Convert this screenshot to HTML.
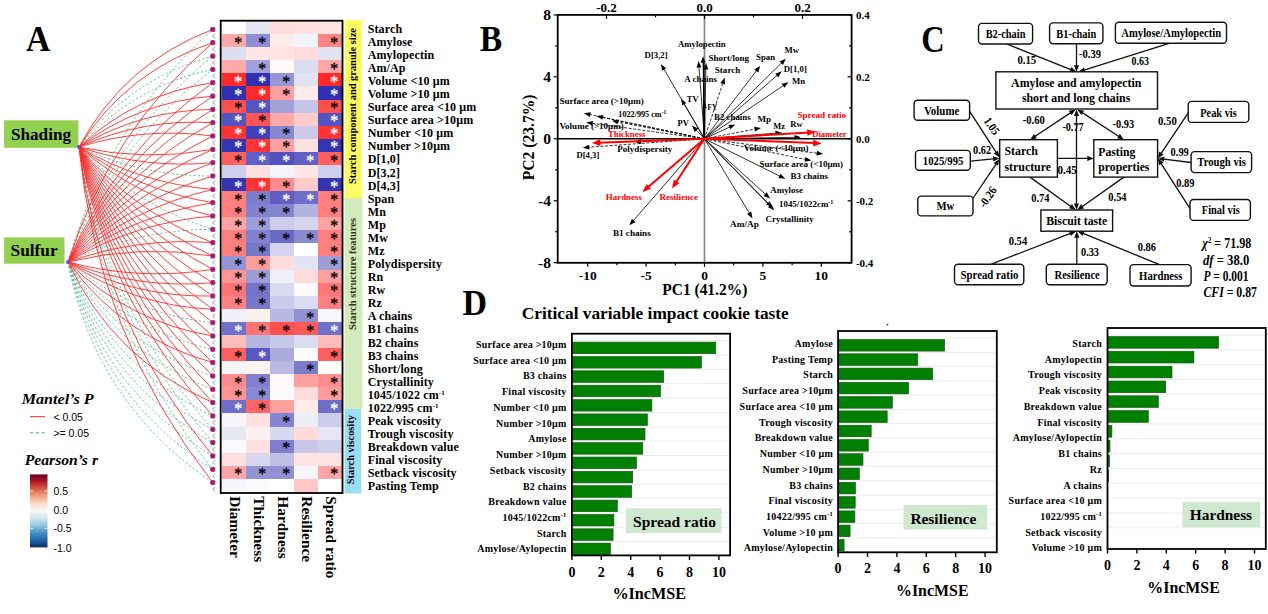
<!DOCTYPE html>
<html><head><meta charset="utf-8"><title>Figure</title>
<style>html,body{margin:0;padding:0;background:#fff;overflow:hidden;}svg{display:block;}</style></head>
<body><svg width="1268" height="614" viewBox="0 0 1268 614" font-family="'Liberation Serif','Times New Roman',serif">
<rect width="1268" height="614" fill="#fff"/>
<text x="26.0" y="51.4" font-size="35" fill="#000" font-weight="bold" textLength="24.4" lengthAdjust="spacingAndGlyphs">A</text>
<rect x="4.1" y="120.3" width="74.3" height="27.5" fill="#92D050"/>
<text x="11.0" y="140.2" font-size="17" fill="#000" font-weight="bold" textLength="60.0" lengthAdjust="spacingAndGlyphs">Shading</text>
<rect x="4.1" y="237.4" width="60.4" height="26.3" fill="#92D050"/>
<text x="10.5" y="256.3" font-size="17" fill="#000" font-weight="bold" textLength="47.2" lengthAdjust="spacingAndGlyphs">Sulfur</text>
<g fill="none" stroke="#3CB08A" stroke-width="0.9" stroke-dasharray="2.2,2.2" opacity="0.9">
<path d="M79,147 Q130.2,78.4 212.8,56.1"/>
<path d="M79,147 Q133.1,86.1 212.8,69.4"/>
<path d="M79,147 Q142.7,176.3 212.8,176.0"/>
<path d="M79,147 Q135.5,205.1 212.8,229.3"/>
<path d="M79,147 Q104.9,307.6 212.8,429.3"/>
<path d="M79,147 Q102.9,314.3 212.8,442.6"/>
<path d="M79,147 Q98.8,327.7 212.8,469.3"/>
<path d="M68,262 Q107.3,125.1 212.8,29.4"/>
<path d="M68,262 Q111.4,138.6 212.8,56.1"/>
<path d="M68,262 Q113.4,145.4 212.8,69.4"/>
<path d="M68,262 Q136.8,229.6 212.8,229.3"/>
<path d="M68,262 Q131.3,314.1 212.8,322.7"/>
<path d="M68,262 Q125.8,329.9 212.8,349.3"/>
<path d="M68,262 Q119.8,345.1 212.8,376.0"/>
<path d="M68,262 Q116.7,352.6 212.8,389.3"/>
<path d="M68,262 Q110.4,367.2 212.8,416.0"/>
<path d="M68,262 Q107.2,374.4 212.8,429.3"/>
<path d="M68,262 Q104.0,381.5 212.8,442.6"/>
<path d="M68,262 Q100.8,388.5 212.8,456.0"/>
<path d="M68,262 Q97.6,395.6 212.8,469.3"/>
<path d="M68,262 Q94.4,402.5 212.8,482.6"/>
</g>
<g fill="none" stroke="#FF2020" stroke-width="0.9" opacity="0.95">
<path d="M79,147 Q124.0,63.3 212.8,29.4"/>
<path d="M79,147 Q127.1,70.8 212.8,42.7"/>
<path d="M79,147 Q135.9,93.9 212.8,82.7"/>
<path d="M79,147 Q138.4,102.0 212.8,96.1"/>
<path d="M79,147 Q140.8,110.1 212.8,109.4"/>
<path d="M79,147 Q142.9,118.4 212.8,122.7"/>
<path d="M79,147 Q144.7,126.7 212.8,136.0"/>
<path d="M79,147 Q145.7,161.7 212.8,149.4"/>
<path d="M79,147 Q144.2,169.0 212.8,162.7"/>
<path d="M79,147 Q141.0,183.6 212.8,189.4"/>
<path d="M79,147 Q139.3,190.8 212.8,202.7"/>
<path d="M79,147 Q137.4,198.0 212.8,216.0"/>
<path d="M79,147 Q133.5,212.1 212.8,242.7"/>
<path d="M79,147 Q131.6,219.1 212.8,256.0"/>
<path d="M79,147 Q129.5,226.1 212.8,269.3"/>
<path d="M79,147 Q127.5,233.0 212.8,282.7"/>
<path d="M79,147 Q125.5,239.9 212.8,296.0"/>
<path d="M79,147 Q123.4,246.7 212.8,309.3"/>
<path d="M79,147 Q121.3,253.5 212.8,322.7"/>
<path d="M79,147 Q119.3,260.3 212.8,336.0"/>
<path d="M79,147 Q117.2,267.1 212.8,349.3"/>
<path d="M79,147 Q115.2,273.9 212.8,362.6"/>
<path d="M79,147 Q113.1,280.6 212.8,376.0"/>
<path d="M79,147 Q111.1,287.4 212.8,389.3"/>
<path d="M79,147 Q109.0,294.1 212.8,402.6"/>
<path d="M79,147 Q107.0,300.9 212.8,416.0"/>
<path d="M79,147 Q100.8,321.0 212.8,456.0"/>
<path d="M79,147 Q96.8,334.4 212.8,482.6"/>
<path d="M68,262 Q109.3,131.8 212.8,42.7"/>
<path d="M68,262 Q115.5,152.2 212.8,82.7"/>
<path d="M68,262 Q117.6,159.1 212.8,96.1"/>
<path d="M68,262 Q119.6,166.0 212.8,109.4"/>
<path d="M68,262 Q121.6,172.9 212.8,122.7"/>
<path d="M68,262 Q123.7,179.8 212.8,136.0"/>
<path d="M68,262 Q125.7,186.8 212.8,149.4"/>
<path d="M68,262 Q127.7,193.8 212.8,162.7"/>
<path d="M68,262 Q129.6,200.8 212.8,176.0"/>
<path d="M68,262 Q131.5,208.0 212.8,189.4"/>
<path d="M68,262 Q133.3,215.1 212.8,202.7"/>
<path d="M68,262 Q135.1,222.3 212.8,216.0"/>
<path d="M68,262 Q138.3,236.9 212.8,242.7"/>
<path d="M68,262 Q139.8,244.2 212.8,256.0"/>
<path d="M68,262 Q139.6,281.1 212.8,269.3"/>
<path d="M68,262 Q138.0,289.5 212.8,282.7"/>
<path d="M68,262 Q136.0,297.8 212.8,296.0"/>
<path d="M68,262 Q133.8,306.0 212.8,309.3"/>
<path d="M68,262 Q128.6,322.0 212.8,336.0"/>
<path d="M68,262 Q122.9,337.5 212.8,362.6"/>
<path d="M68,262 Q113.6,359.9 212.8,402.6"/>
</g>
<g fill="none" stroke="#8C8C8C" stroke-width="0.8">
<path d="M215.2,33.8 L212.6,36.0 L215.2,38.2"/>
<path d="M215.2,47.1 L212.6,49.3 L215.2,51.5"/>
<path d="M215.2,60.5 L212.6,62.7 L215.2,64.9"/>
<path d="M215.2,73.8 L212.6,76.0 L215.2,78.2"/>
<path d="M215.2,87.1 L212.6,89.3 L215.2,91.5"/>
<path d="M215.2,100.5 L212.6,102.7 L215.2,104.9"/>
<path d="M215.2,113.8 L212.6,116.0 L215.2,118.2"/>
<path d="M215.2,127.1 L212.6,129.3 L215.2,131.5"/>
<path d="M215.2,140.4 L212.6,142.6 L215.2,144.8"/>
<path d="M215.2,153.8 L212.6,156.0 L215.2,158.2"/>
<path d="M215.2,167.1 L212.6,169.3 L215.2,171.5"/>
<path d="M215.2,180.4 L212.6,182.6 L215.2,184.8"/>
<path d="M215.2,193.8 L212.6,196.0 L215.2,198.2"/>
<path d="M215.2,207.1 L212.6,209.3 L215.2,211.5"/>
<path d="M215.2,220.4 L212.6,222.6 L215.2,224.8"/>
<path d="M215.2,233.8 L212.6,235.9 L215.2,238.1"/>
<path d="M215.2,247.1 L212.6,249.3 L215.2,251.5"/>
<path d="M215.2,260.4 L212.6,262.6 L215.2,264.8"/>
<path d="M215.2,273.7 L212.6,275.9 L215.2,278.1"/>
<path d="M215.2,287.1 L212.6,289.3 L215.2,291.5"/>
<path d="M215.2,300.4 L212.6,302.6 L215.2,304.8"/>
<path d="M215.2,313.7 L212.6,315.9 L215.2,318.1"/>
<path d="M215.2,327.1 L212.6,329.3 L215.2,331.5"/>
<path d="M215.2,340.4 L212.6,342.6 L215.2,344.8"/>
<path d="M215.2,353.7 L212.6,355.9 L215.2,358.1"/>
<path d="M215.2,367.1 L212.6,369.2 L215.2,371.4"/>
<path d="M215.2,380.4 L212.6,382.6 L215.2,384.8"/>
<path d="M215.2,393.7 L212.6,395.9 L215.2,398.1"/>
<path d="M215.2,407.0 L212.6,409.2 L215.2,411.4"/>
<path d="M215.2,420.4 L212.6,422.6 L215.2,424.8"/>
<path d="M215.2,433.7 L212.6,435.9 L215.2,438.1"/>
<path d="M215.2,447.0 L212.6,449.2 L215.2,451.4"/>
<path d="M215.2,460.4 L212.6,462.6 L215.2,464.8"/>
<path d="M215.2,473.7 L212.6,475.9 L215.2,478.1"/>
<path d="M215.2,487.0 L212.6,489.2 L215.2,491.4"/>
</g>
<g fill="#E8001C" stroke="#6A4BE0" stroke-width="1">
<rect x="210.7" y="27.3" width="4.2" height="4.2" rx="1"/>
<rect x="210.7" y="40.6" width="4.2" height="4.2" rx="1"/>
<rect x="210.7" y="54.0" width="4.2" height="4.2" rx="1"/>
<rect x="210.7" y="67.3" width="4.2" height="4.2" rx="1"/>
<rect x="210.7" y="80.6" width="4.2" height="4.2" rx="1"/>
<rect x="210.7" y="94.0" width="4.2" height="4.2" rx="1"/>
<rect x="210.7" y="107.3" width="4.2" height="4.2" rx="1"/>
<rect x="210.7" y="120.6" width="4.2" height="4.2" rx="1"/>
<rect x="210.7" y="133.9" width="4.2" height="4.2" rx="1"/>
<rect x="210.7" y="147.3" width="4.2" height="4.2" rx="1"/>
<rect x="210.7" y="160.6" width="4.2" height="4.2" rx="1"/>
<rect x="210.7" y="173.9" width="4.2" height="4.2" rx="1"/>
<rect x="210.7" y="187.3" width="4.2" height="4.2" rx="1"/>
<rect x="210.7" y="200.6" width="4.2" height="4.2" rx="1"/>
<rect x="210.7" y="213.9" width="4.2" height="4.2" rx="1"/>
<rect x="210.7" y="227.2" width="4.2" height="4.2" rx="1"/>
<rect x="210.7" y="240.6" width="4.2" height="4.2" rx="1"/>
<rect x="210.7" y="253.9" width="4.2" height="4.2" rx="1"/>
<rect x="210.7" y="267.2" width="4.2" height="4.2" rx="1"/>
<rect x="210.7" y="280.6" width="4.2" height="4.2" rx="1"/>
<rect x="210.7" y="293.9" width="4.2" height="4.2" rx="1"/>
<rect x="210.7" y="307.2" width="4.2" height="4.2" rx="1"/>
<rect x="210.7" y="320.6" width="4.2" height="4.2" rx="1"/>
<rect x="210.7" y="333.9" width="4.2" height="4.2" rx="1"/>
<rect x="210.7" y="347.2" width="4.2" height="4.2" rx="1"/>
<rect x="210.7" y="360.5" width="4.2" height="4.2" rx="1"/>
<rect x="210.7" y="373.9" width="4.2" height="4.2" rx="1"/>
<rect x="210.7" y="387.2" width="4.2" height="4.2" rx="1"/>
<rect x="210.7" y="400.5" width="4.2" height="4.2" rx="1"/>
<rect x="210.7" y="413.9" width="4.2" height="4.2" rx="1"/>
<rect x="210.7" y="427.2" width="4.2" height="4.2" rx="1"/>
<rect x="210.7" y="440.5" width="4.2" height="4.2" rx="1"/>
<rect x="210.7" y="453.9" width="4.2" height="4.2" rx="1"/>
<rect x="210.7" y="467.2" width="4.2" height="4.2" rx="1"/>
<rect x="210.7" y="480.5" width="4.2" height="4.2" rx="1"/>
</g>
<g fill="#7B3FE4"><circle cx="79" cy="147" r="2"/><circle cx="68" cy="262" r="2"/></g>
<text x="21.7" y="403.5" font-size="15" fill="#000" font-weight="bold" font-style="italic" textLength="71.9" lengthAdjust="spacingAndGlyphs">Mantel’s P</text>
<line x1="30.0" y1="416.7" x2="45.0" y2="416.7" stroke="#FF2020" stroke-width="1"/>
<text x="53.4" y="420.8" font-size="10.5" fill="#000" font-family="'Liberation Sans',Arial,sans-serif">&lt; 0.05</text>
<line x1="30.0" y1="432.8" x2="45.0" y2="432.8" stroke="#3CB08A" stroke-width="1" stroke-dasharray="3.2,2.6"/>
<text x="53.4" y="436.8" font-size="10.5" fill="#000" font-family="'Liberation Sans',Arial,sans-serif">&gt;= 0.05</text>
<text x="24.7" y="465.0" font-size="15" fill="#000" font-weight="bold" font-style="italic" textLength="73.3" lengthAdjust="spacingAndGlyphs">Pearson’s r</text>
<defs><linearGradient id="rdbu" x1="0" y1="0" x2="0" y2="1"><stop offset="0" stop-color="#67001F"/><stop offset="0.1" stop-color="#B2182B"/><stop offset="0.2" stop-color="#D6604D"/><stop offset="0.3" stop-color="#F4A582"/><stop offset="0.4" stop-color="#FDDBC7"/><stop offset="0.5" stop-color="#F7F7F7"/><stop offset="0.6" stop-color="#D1E5F0"/><stop offset="0.7" stop-color="#92C5DE"/><stop offset="0.8" stop-color="#4393C3"/><stop offset="0.9" stop-color="#2166AC"/><stop offset="1" stop-color="#053061"/></linearGradient></defs>
<rect x="30.0" y="474.4" width="17.5" height="73.0" fill="url(#rdbu)"/>
<line x1="30.0" y1="490.9" x2="33.0" y2="490.9" stroke="#fff" stroke-width="0.8"/>
<line x1="44.5" y1="490.9" x2="47.5" y2="490.9" stroke="#fff" stroke-width="0.8"/>
<line x1="30.0" y1="510.0" x2="33.0" y2="510.0" stroke="#fff" stroke-width="0.8"/>
<line x1="44.5" y1="510.0" x2="47.5" y2="510.0" stroke="#fff" stroke-width="0.8"/>
<line x1="30.0" y1="528.4" x2="33.0" y2="528.4" stroke="#fff" stroke-width="0.8"/>
<line x1="44.5" y1="528.4" x2="47.5" y2="528.4" stroke="#fff" stroke-width="0.8"/>
<text x="53.4" y="494.6" font-size="10.5" fill="#000" font-family="'Liberation Sans',Arial,sans-serif">0.5</text>
<text x="53.4" y="513.8" font-size="10.5" fill="#000" font-family="'Liberation Sans',Arial,sans-serif">0.0</text>
<text x="53.4" y="532.2" font-size="10.5" fill="#000" font-family="'Liberation Sans',Arial,sans-serif">-0.5</text>
<text x="53.4" y="551.5" font-size="10.5" fill="#000" font-family="'Liberation Sans',Arial,sans-serif">-1.0</text>
<g shape-rendering="crispEdges">
<rect x="221.7" y="21.0" width="24.3" height="13.4" fill="#FFFFFF"/>
<rect x="245.7" y="21.0" width="24.3" height="13.4" fill="#E4E4F4"/>
<rect x="269.7" y="21.0" width="24.3" height="13.4" fill="#FFDDDD"/>
<rect x="293.8" y="21.0" width="24.3" height="13.4" fill="#FFE0E0"/>
<rect x="317.8" y="21.0" width="24.3" height="13.4" fill="#FFE4E4"/>
<rect x="221.7" y="34.1" width="24.3" height="13.4" fill="#FFAAAA"/>
<rect x="245.7" y="34.1" width="24.3" height="13.4" fill="#8E8ED5"/>
<rect x="269.7" y="34.1" width="24.3" height="13.4" fill="#FFEAEA"/>
<rect x="293.8" y="34.1" width="24.3" height="13.4" fill="#F3F3FA"/>
<rect x="317.8" y="34.1" width="24.3" height="13.4" fill="#FF8585"/>
<rect x="221.7" y="47.2" width="24.3" height="13.4" fill="#DEDEF0"/>
<rect x="245.7" y="47.2" width="24.3" height="13.4" fill="#FFE6E6"/>
<rect x="269.7" y="47.2" width="24.3" height="13.4" fill="#FFE2E2"/>
<rect x="293.8" y="47.2" width="24.3" height="13.4" fill="#FFDCDC"/>
<rect x="317.8" y="47.2" width="24.3" height="13.4" fill="#E3E3F3"/>
<rect x="221.7" y="60.2" width="24.3" height="13.4" fill="#FFAAAA"/>
<rect x="245.7" y="60.2" width="24.3" height="13.4" fill="#A0A0DA"/>
<rect x="269.7" y="60.2" width="24.3" height="13.4" fill="#FFF8F6"/>
<rect x="293.8" y="60.2" width="24.3" height="13.4" fill="#DCDCF0"/>
<rect x="317.8" y="60.2" width="24.3" height="13.4" fill="#FFA8A8"/>
<rect x="221.7" y="73.3" width="24.3" height="13.4" fill="#FF2A2A"/>
<rect x="245.7" y="73.3" width="24.3" height="13.4" fill="#3030B0"/>
<rect x="269.7" y="73.3" width="24.3" height="13.4" fill="#9696D5"/>
<rect x="293.8" y="73.3" width="24.3" height="13.4" fill="#E3E3F3"/>
<rect x="317.8" y="73.3" width="24.3" height="13.4" fill="#FF2A2A"/>
<rect x="221.7" y="86.4" width="24.3" height="13.4" fill="#3030B0"/>
<rect x="245.7" y="86.4" width="24.3" height="13.4" fill="#FF2A2A"/>
<rect x="269.7" y="86.4" width="24.3" height="13.4" fill="#FF9F9F"/>
<rect x="293.8" y="86.4" width="24.3" height="13.4" fill="#FFEAEA"/>
<rect x="317.8" y="86.4" width="24.3" height="13.4" fill="#3030B0"/>
<rect x="221.7" y="99.5" width="24.3" height="13.4" fill="#FF4F4F"/>
<rect x="245.7" y="99.5" width="24.3" height="13.4" fill="#5555C0"/>
<rect x="269.7" y="99.5" width="24.3" height="13.4" fill="#A3A3DA"/>
<rect x="293.8" y="99.5" width="24.3" height="13.4" fill="#C5C5E8"/>
<rect x="317.8" y="99.5" width="24.3" height="13.4" fill="#FF4F4F"/>
<rect x="221.7" y="112.6" width="24.3" height="13.4" fill="#5555C0"/>
<rect x="245.7" y="112.6" width="24.3" height="13.4" fill="#FF5555"/>
<rect x="269.7" y="112.6" width="24.3" height="13.4" fill="#FFAAAA"/>
<rect x="293.8" y="112.6" width="24.3" height="13.4" fill="#FFCCCC"/>
<rect x="317.8" y="112.6" width="24.3" height="13.4" fill="#5555C0"/>
<rect x="221.7" y="125.6" width="24.3" height="13.4" fill="#FF3333"/>
<rect x="245.7" y="125.6" width="24.3" height="13.4" fill="#4040B8"/>
<rect x="269.7" y="125.6" width="24.3" height="13.4" fill="#8888D0"/>
<rect x="293.8" y="125.6" width="24.3" height="13.4" fill="#CACAEA"/>
<rect x="317.8" y="125.6" width="24.3" height="13.4" fill="#FF3333"/>
<rect x="221.7" y="138.7" width="24.3" height="13.4" fill="#3535B2"/>
<rect x="245.7" y="138.7" width="24.3" height="13.4" fill="#FF3535"/>
<rect x="269.7" y="138.7" width="24.3" height="13.4" fill="#FFA0A0"/>
<rect x="293.8" y="138.7" width="24.3" height="13.4" fill="#FFE0E0"/>
<rect x="317.8" y="138.7" width="24.3" height="13.4" fill="#3535B2"/>
<rect x="221.7" y="151.8" width="24.3" height="13.4" fill="#FF6060"/>
<rect x="245.7" y="151.8" width="24.3" height="13.4" fill="#6060C5"/>
<rect x="269.7" y="151.8" width="24.3" height="13.4" fill="#5050BE"/>
<rect x="293.8" y="151.8" width="24.3" height="13.4" fill="#6060C5"/>
<rect x="317.8" y="151.8" width="24.3" height="13.4" fill="#FF6060"/>
<rect x="221.7" y="164.9" width="24.3" height="13.4" fill="#CFCFEC"/>
<rect x="245.7" y="164.9" width="24.3" height="13.4" fill="#FFE0E0"/>
<rect x="269.7" y="164.9" width="24.3" height="13.4" fill="#F4F4FA"/>
<rect x="293.8" y="164.9" width="24.3" height="13.4" fill="#FFE6E6"/>
<rect x="317.8" y="164.9" width="24.3" height="13.4" fill="#D0D0EC"/>
<rect x="221.7" y="178.0" width="24.3" height="13.4" fill="#3535B2"/>
<rect x="245.7" y="178.0" width="24.3" height="13.4" fill="#FF3535"/>
<rect x="269.7" y="178.0" width="24.3" height="13.4" fill="#FF8C8C"/>
<rect x="293.8" y="178.0" width="24.3" height="13.4" fill="#FFCACA"/>
<rect x="317.8" y="178.0" width="24.3" height="13.4" fill="#3535B2"/>
<rect x="221.7" y="191.0" width="24.3" height="13.4" fill="#FF7F7F"/>
<rect x="245.7" y="191.0" width="24.3" height="13.4" fill="#7D7DCB"/>
<rect x="269.7" y="191.0" width="24.3" height="13.4" fill="#5F5FC3"/>
<rect x="293.8" y="191.0" width="24.3" height="13.4" fill="#6E6EC8"/>
<rect x="317.8" y="191.0" width="24.3" height="13.4" fill="#FF7F7F"/>
<rect x="221.7" y="204.1" width="24.3" height="13.4" fill="#FF7F7F"/>
<rect x="245.7" y="204.1" width="24.3" height="13.4" fill="#8282CE"/>
<rect x="269.7" y="204.1" width="24.3" height="13.4" fill="#8585CF"/>
<rect x="293.8" y="204.1" width="24.3" height="13.4" fill="#B3B3E0"/>
<rect x="317.8" y="204.1" width="24.3" height="13.4" fill="#FF7F7F"/>
<rect x="221.7" y="217.2" width="24.3" height="13.4" fill="#FFA3A3"/>
<rect x="245.7" y="217.2" width="24.3" height="13.4" fill="#9E9ED8"/>
<rect x="269.7" y="217.2" width="24.3" height="13.4" fill="#CDCDEB"/>
<rect x="293.8" y="217.2" width="24.3" height="13.4" fill="#D5D5EE"/>
<rect x="317.8" y="217.2" width="24.3" height="13.4" fill="#FFA3A3"/>
<rect x="221.7" y="230.3" width="24.3" height="13.4" fill="#FF7F7F"/>
<rect x="245.7" y="230.3" width="24.3" height="13.4" fill="#8282CE"/>
<rect x="269.7" y="230.3" width="24.3" height="13.4" fill="#6A6AC6"/>
<rect x="293.8" y="230.3" width="24.3" height="13.4" fill="#8A8AD0"/>
<rect x="317.8" y="230.3" width="24.3" height="13.4" fill="#FF7F7F"/>
<rect x="221.7" y="243.4" width="24.3" height="13.4" fill="#FF7F7F"/>
<rect x="245.7" y="243.4" width="24.3" height="13.4" fill="#7777CA"/>
<rect x="269.7" y="243.4" width="24.3" height="13.4" fill="#D4D4EE"/>
<rect x="293.8" y="243.4" width="24.3" height="13.4" fill="#FFFFFF"/>
<rect x="317.8" y="243.4" width="24.3" height="13.4" fill="#FF7F7F"/>
<rect x="221.7" y="256.4" width="24.3" height="13.4" fill="#9494D4"/>
<rect x="245.7" y="256.4" width="24.3" height="13.4" fill="#FF9C9C"/>
<rect x="269.7" y="256.4" width="24.3" height="13.4" fill="#FFDCDC"/>
<rect x="293.8" y="256.4" width="24.3" height="13.4" fill="#E3E3F3"/>
<rect x="317.8" y="256.4" width="24.3" height="13.4" fill="#9C9CD7"/>
<rect x="221.7" y="269.5" width="24.3" height="13.4" fill="#FF9494"/>
<rect x="245.7" y="269.5" width="24.3" height="13.4" fill="#9C9CD7"/>
<rect x="269.7" y="269.5" width="24.3" height="13.4" fill="#F0F0F8"/>
<rect x="293.8" y="269.5" width="24.3" height="13.4" fill="#FFDCDC"/>
<rect x="317.8" y="269.5" width="24.3" height="13.4" fill="#FFA0A0"/>
<rect x="221.7" y="282.6" width="24.3" height="13.4" fill="#FF7575"/>
<rect x="245.7" y="282.6" width="24.3" height="13.4" fill="#7373C8"/>
<rect x="269.7" y="282.6" width="24.3" height="13.4" fill="#DADAF0"/>
<rect x="293.8" y="282.6" width="24.3" height="13.4" fill="#FFF8F8"/>
<rect x="317.8" y="282.6" width="24.3" height="13.4" fill="#FF7878"/>
<rect x="221.7" y="295.7" width="24.3" height="13.4" fill="#FF8080"/>
<rect x="245.7" y="295.7" width="24.3" height="13.4" fill="#7878CA"/>
<rect x="269.7" y="295.7" width="24.3" height="13.4" fill="#CACAEA"/>
<rect x="293.8" y="295.7" width="24.3" height="13.4" fill="#DCDCF0"/>
<rect x="317.8" y="295.7" width="24.3" height="13.4" fill="#FF8080"/>
<rect x="221.7" y="308.8" width="24.3" height="13.4" fill="#F0F0F8"/>
<rect x="245.7" y="308.8" width="24.3" height="13.4" fill="#FFF0F0"/>
<rect x="269.7" y="308.8" width="24.3" height="13.4" fill="#B8B8E2"/>
<rect x="293.8" y="308.8" width="24.3" height="13.4" fill="#9090D2"/>
<rect x="317.8" y="308.8" width="24.3" height="13.4" fill="#F8F8FC"/>
<rect x="221.7" y="321.8" width="24.3" height="13.4" fill="#7070C8"/>
<rect x="245.7" y="321.8" width="24.3" height="13.4" fill="#FF7575"/>
<rect x="269.7" y="321.8" width="24.3" height="13.4" fill="#FF5050"/>
<rect x="293.8" y="321.8" width="24.3" height="13.4" fill="#FF5A5A"/>
<rect x="317.8" y="321.8" width="24.3" height="13.4" fill="#7070C8"/>
<rect x="221.7" y="334.9" width="24.3" height="13.4" fill="#FFBCBC"/>
<rect x="245.7" y="334.9" width="24.3" height="13.4" fill="#B5B5E2"/>
<rect x="269.7" y="334.9" width="24.3" height="13.4" fill="#C8C8E8"/>
<rect x="293.8" y="334.9" width="24.3" height="13.4" fill="#DCDCF0"/>
<rect x="317.8" y="334.9" width="24.3" height="13.4" fill="#FFBCBC"/>
<rect x="221.7" y="348.0" width="24.3" height="13.4" fill="#FF6060"/>
<rect x="245.7" y="348.0" width="24.3" height="13.4" fill="#5858C0"/>
<rect x="269.7" y="348.0" width="24.3" height="13.4" fill="#AAAADD"/>
<rect x="293.8" y="348.0" width="24.3" height="13.4" fill="#FCFCFE"/>
<rect x="317.8" y="348.0" width="24.3" height="13.4" fill="#FF6060"/>
<rect x="221.7" y="361.1" width="24.3" height="13.4" fill="#F5F5FA"/>
<rect x="245.7" y="361.1" width="24.3" height="13.4" fill="#FFF4F2"/>
<rect x="269.7" y="361.1" width="24.3" height="13.4" fill="#B8B8E2"/>
<rect x="293.8" y="361.1" width="24.3" height="13.4" fill="#7C7CCC"/>
<rect x="317.8" y="361.1" width="24.3" height="13.4" fill="#FFFFFF"/>
<rect x="221.7" y="374.2" width="24.3" height="13.4" fill="#FF8C8C"/>
<rect x="245.7" y="374.2" width="24.3" height="13.4" fill="#8080CE"/>
<rect x="269.7" y="374.2" width="24.3" height="13.4" fill="#FFF8F8"/>
<rect x="293.8" y="374.2" width="24.3" height="13.4" fill="#FFA0A0"/>
<rect x="317.8" y="374.2" width="24.3" height="13.4" fill="#FF9090"/>
<rect x="221.7" y="387.2" width="24.3" height="13.4" fill="#FF9494"/>
<rect x="245.7" y="387.2" width="24.3" height="13.4" fill="#8A8AD0"/>
<rect x="269.7" y="387.2" width="24.3" height="13.4" fill="#FAFAFC"/>
<rect x="293.8" y="387.2" width="24.3" height="13.4" fill="#FFDDDD"/>
<rect x="317.8" y="387.2" width="24.3" height="13.4" fill="#FF9C9C"/>
<rect x="221.7" y="400.3" width="24.3" height="13.4" fill="#6F6FC6"/>
<rect x="245.7" y="400.3" width="24.3" height="13.4" fill="#FF6565"/>
<rect x="269.7" y="400.3" width="24.3" height="13.4" fill="#FFA0A0"/>
<rect x="293.8" y="400.3" width="24.3" height="13.4" fill="#FFEAEA"/>
<rect x="317.8" y="400.3" width="24.3" height="13.4" fill="#6F6FC6"/>
<rect x="221.7" y="413.4" width="24.3" height="13.4" fill="#F4F4FA"/>
<rect x="245.7" y="413.4" width="24.3" height="13.4" fill="#FFE0E0"/>
<rect x="269.7" y="413.4" width="24.3" height="13.4" fill="#8484D0"/>
<rect x="293.8" y="413.4" width="24.3" height="13.4" fill="#EEEEF8"/>
<rect x="317.8" y="413.4" width="24.3" height="13.4" fill="#CDCDEB"/>
<rect x="221.7" y="426.5" width="24.3" height="13.4" fill="#E8E8F5"/>
<rect x="245.7" y="426.5" width="24.3" height="13.4" fill="#FFF0F0"/>
<rect x="269.7" y="426.5" width="24.3" height="13.4" fill="#D8D8F0"/>
<rect x="293.8" y="426.5" width="24.3" height="13.4" fill="#FFDADA"/>
<rect x="317.8" y="426.5" width="24.3" height="13.4" fill="#E6E6F4"/>
<rect x="221.7" y="439.6" width="24.3" height="13.4" fill="#FAFAFC"/>
<rect x="245.7" y="439.6" width="24.3" height="13.4" fill="#FFE0E0"/>
<rect x="269.7" y="439.6" width="24.3" height="13.4" fill="#7E7ECC"/>
<rect x="293.8" y="439.6" width="24.3" height="13.4" fill="#C6C6E8"/>
<rect x="317.8" y="439.6" width="24.3" height="13.4" fill="#D0D0EC"/>
<rect x="221.7" y="452.6" width="24.3" height="13.4" fill="#FFE0E0"/>
<rect x="245.7" y="452.6" width="24.3" height="13.4" fill="#D6D6EF"/>
<rect x="269.7" y="452.6" width="24.3" height="13.4" fill="#C0C0E5"/>
<rect x="293.8" y="452.6" width="24.3" height="13.4" fill="#FFE2E2"/>
<rect x="317.8" y="452.6" width="24.3" height="13.4" fill="#FFE2E2"/>
<rect x="221.7" y="465.7" width="24.3" height="13.4" fill="#FFA5A5"/>
<rect x="245.7" y="465.7" width="24.3" height="13.4" fill="#9494D4"/>
<rect x="269.7" y="465.7" width="24.3" height="13.4" fill="#9090D2"/>
<rect x="293.8" y="465.7" width="24.3" height="13.4" fill="#F5F5FA"/>
<rect x="317.8" y="465.7" width="24.3" height="13.4" fill="#FFA5A5"/>
<rect x="221.7" y="478.8" width="24.3" height="13.4" fill="#F6F6FA"/>
<rect x="245.7" y="478.8" width="24.3" height="13.4" fill="#FAFAFC"/>
<rect x="269.7" y="478.8" width="24.3" height="13.4" fill="#FFFFFF"/>
<rect x="293.8" y="478.8" width="24.3" height="13.4" fill="#FFC8C8"/>
<rect x="317.8" y="478.8" width="24.3" height="13.4" fill="#FFFFFF"/>
</g>
<text x="238.2" y="47.8" font-size="16" fill="#000" text-anchor="middle" stroke="#000" stroke-width="0.35">*</text>
<text x="262.2" y="47.8" font-size="16" fill="#000" text-anchor="middle" stroke="#000" stroke-width="0.35">*</text>
<text x="334.3" y="47.8" font-size="16" fill="#000" text-anchor="middle" stroke="#000" stroke-width="0.35">*</text>
<text x="262.2" y="73.9" font-size="16" fill="#000" text-anchor="middle" stroke="#000" stroke-width="0.35">*</text>
<text x="334.3" y="73.9" font-size="16" fill="#000" text-anchor="middle" stroke="#000" stroke-width="0.35">*</text>
<text x="238.2" y="87.0" font-size="16" fill="#fff" text-anchor="middle" stroke="#fff" stroke-width="0.35">*</text>
<text x="262.2" y="87.0" font-size="16" fill="#fff" text-anchor="middle" stroke="#fff" stroke-width="0.35">*</text>
<text x="286.2" y="87.0" font-size="16" fill="#000" text-anchor="middle" stroke="#000" stroke-width="0.35">*</text>
<text x="334.3" y="87.0" font-size="16" fill="#fff" text-anchor="middle" stroke="#fff" stroke-width="0.35">*</text>
<text x="238.2" y="100.1" font-size="16" fill="#fff" text-anchor="middle" stroke="#fff" stroke-width="0.35">*</text>
<text x="262.2" y="100.1" font-size="16" fill="#fff" text-anchor="middle" stroke="#fff" stroke-width="0.35">*</text>
<text x="286.2" y="100.1" font-size="16" fill="#000" text-anchor="middle" stroke="#000" stroke-width="0.35">*</text>
<text x="334.3" y="100.1" font-size="16" fill="#fff" text-anchor="middle" stroke="#fff" stroke-width="0.35">*</text>
<text x="238.2" y="113.2" font-size="16" fill="#000" text-anchor="middle" stroke="#000" stroke-width="0.35">*</text>
<text x="262.2" y="113.2" font-size="16" fill="#fff" text-anchor="middle" stroke="#fff" stroke-width="0.35">*</text>
<text x="334.3" y="113.2" font-size="16" fill="#000" text-anchor="middle" stroke="#000" stroke-width="0.35">*</text>
<text x="238.2" y="126.3" font-size="16" fill="#fff" text-anchor="middle" stroke="#fff" stroke-width="0.35">*</text>
<text x="262.2" y="126.3" font-size="16" fill="#000" text-anchor="middle" stroke="#000" stroke-width="0.35">*</text>
<text x="334.3" y="126.3" font-size="16" fill="#fff" text-anchor="middle" stroke="#fff" stroke-width="0.35">*</text>
<text x="238.2" y="139.3" font-size="16" fill="#fff" text-anchor="middle" stroke="#fff" stroke-width="0.35">*</text>
<text x="262.2" y="139.3" font-size="16" fill="#fff" text-anchor="middle" stroke="#fff" stroke-width="0.35">*</text>
<text x="286.2" y="139.3" font-size="16" fill="#000" text-anchor="middle" stroke="#000" stroke-width="0.35">*</text>
<text x="334.3" y="139.3" font-size="16" fill="#fff" text-anchor="middle" stroke="#fff" stroke-width="0.35">*</text>
<text x="238.2" y="152.4" font-size="16" fill="#fff" text-anchor="middle" stroke="#fff" stroke-width="0.35">*</text>
<text x="262.2" y="152.4" font-size="16" fill="#fff" text-anchor="middle" stroke="#fff" stroke-width="0.35">*</text>
<text x="286.2" y="152.4" font-size="16" fill="#000" text-anchor="middle" stroke="#000" stroke-width="0.35">*</text>
<text x="334.3" y="152.4" font-size="16" fill="#fff" text-anchor="middle" stroke="#fff" stroke-width="0.35">*</text>
<text x="238.2" y="165.5" font-size="16" fill="#000" text-anchor="middle" stroke="#000" stroke-width="0.35">*</text>
<text x="262.2" y="165.5" font-size="16" fill="#fff" text-anchor="middle" stroke="#fff" stroke-width="0.35">*</text>
<text x="286.2" y="165.5" font-size="16" fill="#fff" text-anchor="middle" stroke="#fff" stroke-width="0.35">*</text>
<text x="310.3" y="165.5" font-size="16" fill="#fff" text-anchor="middle" stroke="#fff" stroke-width="0.35">*</text>
<text x="334.3" y="165.5" font-size="16" fill="#000" text-anchor="middle" stroke="#000" stroke-width="0.35">*</text>
<text x="238.2" y="191.7" font-size="16" fill="#fff" text-anchor="middle" stroke="#fff" stroke-width="0.35">*</text>
<text x="262.2" y="191.7" font-size="16" fill="#fff" text-anchor="middle" stroke="#fff" stroke-width="0.35">*</text>
<text x="286.2" y="191.7" font-size="16" fill="#000" text-anchor="middle" stroke="#000" stroke-width="0.35">*</text>
<text x="334.3" y="191.7" font-size="16" fill="#fff" text-anchor="middle" stroke="#fff" stroke-width="0.35">*</text>
<text x="238.2" y="204.7" font-size="16" fill="#000" text-anchor="middle" stroke="#000" stroke-width="0.35">*</text>
<text x="262.2" y="204.7" font-size="16" fill="#000" text-anchor="middle" stroke="#000" stroke-width="0.35">*</text>
<text x="286.2" y="204.7" font-size="16" fill="#fff" text-anchor="middle" stroke="#fff" stroke-width="0.35">*</text>
<text x="310.3" y="204.7" font-size="16" fill="#fff" text-anchor="middle" stroke="#fff" stroke-width="0.35">*</text>
<text x="334.3" y="204.7" font-size="16" fill="#000" text-anchor="middle" stroke="#000" stroke-width="0.35">*</text>
<text x="238.2" y="217.8" font-size="16" fill="#000" text-anchor="middle" stroke="#000" stroke-width="0.35">*</text>
<text x="262.2" y="217.8" font-size="16" fill="#000" text-anchor="middle" stroke="#000" stroke-width="0.35">*</text>
<text x="286.2" y="217.8" font-size="16" fill="#000" text-anchor="middle" stroke="#000" stroke-width="0.35">*</text>
<text x="334.3" y="217.8" font-size="16" fill="#000" text-anchor="middle" stroke="#000" stroke-width="0.35">*</text>
<text x="238.2" y="230.9" font-size="16" fill="#000" text-anchor="middle" stroke="#000" stroke-width="0.35">*</text>
<text x="262.2" y="230.9" font-size="16" fill="#000" text-anchor="middle" stroke="#000" stroke-width="0.35">*</text>
<text x="334.3" y="230.9" font-size="16" fill="#000" text-anchor="middle" stroke="#000" stroke-width="0.35">*</text>
<text x="238.2" y="244.0" font-size="16" fill="#000" text-anchor="middle" stroke="#000" stroke-width="0.35">*</text>
<text x="262.2" y="244.0" font-size="16" fill="#000" text-anchor="middle" stroke="#000" stroke-width="0.35">*</text>
<text x="286.2" y="244.0" font-size="16" fill="#000" text-anchor="middle" stroke="#000" stroke-width="0.35">*</text>
<text x="310.3" y="244.0" font-size="16" fill="#000" text-anchor="middle" stroke="#000" stroke-width="0.35">*</text>
<text x="334.3" y="244.0" font-size="16" fill="#000" text-anchor="middle" stroke="#000" stroke-width="0.35">*</text>
<text x="238.2" y="257.1" font-size="16" fill="#000" text-anchor="middle" stroke="#000" stroke-width="0.35">*</text>
<text x="262.2" y="257.1" font-size="16" fill="#000" text-anchor="middle" stroke="#000" stroke-width="0.35">*</text>
<text x="334.3" y="257.1" font-size="16" fill="#000" text-anchor="middle" stroke="#000" stroke-width="0.35">*</text>
<text x="238.2" y="270.1" font-size="16" fill="#000" text-anchor="middle" stroke="#000" stroke-width="0.35">*</text>
<text x="262.2" y="270.1" font-size="16" fill="#000" text-anchor="middle" stroke="#000" stroke-width="0.35">*</text>
<text x="334.3" y="270.1" font-size="16" fill="#000" text-anchor="middle" stroke="#000" stroke-width="0.35">*</text>
<text x="238.2" y="283.2" font-size="16" fill="#000" text-anchor="middle" stroke="#000" stroke-width="0.35">*</text>
<text x="262.2" y="283.2" font-size="16" fill="#000" text-anchor="middle" stroke="#000" stroke-width="0.35">*</text>
<text x="334.3" y="283.2" font-size="16" fill="#000" text-anchor="middle" stroke="#000" stroke-width="0.35">*</text>
<text x="238.2" y="296.3" font-size="16" fill="#000" text-anchor="middle" stroke="#000" stroke-width="0.35">*</text>
<text x="262.2" y="296.3" font-size="16" fill="#000" text-anchor="middle" stroke="#000" stroke-width="0.35">*</text>
<text x="334.3" y="296.3" font-size="16" fill="#000" text-anchor="middle" stroke="#000" stroke-width="0.35">*</text>
<text x="238.2" y="309.4" font-size="16" fill="#000" text-anchor="middle" stroke="#000" stroke-width="0.35">*</text>
<text x="262.2" y="309.4" font-size="16" fill="#000" text-anchor="middle" stroke="#000" stroke-width="0.35">*</text>
<text x="334.3" y="309.4" font-size="16" fill="#000" text-anchor="middle" stroke="#000" stroke-width="0.35">*</text>
<text x="310.3" y="322.5" font-size="16" fill="#000" text-anchor="middle" stroke="#000" stroke-width="0.35">*</text>
<text x="238.2" y="335.5" font-size="16" fill="#fff" text-anchor="middle" stroke="#fff" stroke-width="0.35">*</text>
<text x="262.2" y="335.5" font-size="16" fill="#000" text-anchor="middle" stroke="#000" stroke-width="0.35">*</text>
<text x="286.2" y="335.5" font-size="16" fill="#000" text-anchor="middle" stroke="#000" stroke-width="0.35">*</text>
<text x="310.3" y="335.5" font-size="16" fill="#000" text-anchor="middle" stroke="#000" stroke-width="0.35">*</text>
<text x="334.3" y="335.5" font-size="16" fill="#fff" text-anchor="middle" stroke="#fff" stroke-width="0.35">*</text>
<text x="238.2" y="361.7" font-size="16" fill="#000" text-anchor="middle" stroke="#000" stroke-width="0.35">*</text>
<text x="262.2" y="361.7" font-size="16" fill="#fff" text-anchor="middle" stroke="#fff" stroke-width="0.35">*</text>
<text x="334.3" y="361.7" font-size="16" fill="#000" text-anchor="middle" stroke="#000" stroke-width="0.35">*</text>
<text x="310.3" y="374.8" font-size="16" fill="#000" text-anchor="middle" stroke="#000" stroke-width="0.35">*</text>
<text x="238.2" y="387.9" font-size="16" fill="#000" text-anchor="middle" stroke="#000" stroke-width="0.35">*</text>
<text x="262.2" y="387.9" font-size="16" fill="#000" text-anchor="middle" stroke="#000" stroke-width="0.35">*</text>
<text x="334.3" y="387.9" font-size="16" fill="#000" text-anchor="middle" stroke="#000" stroke-width="0.35">*</text>
<text x="238.2" y="400.9" font-size="16" fill="#000" text-anchor="middle" stroke="#000" stroke-width="0.35">*</text>
<text x="262.2" y="400.9" font-size="16" fill="#000" text-anchor="middle" stroke="#000" stroke-width="0.35">*</text>
<text x="334.3" y="400.9" font-size="16" fill="#000" text-anchor="middle" stroke="#000" stroke-width="0.35">*</text>
<text x="238.2" y="414.0" font-size="16" fill="#fff" text-anchor="middle" stroke="#fff" stroke-width="0.35">*</text>
<text x="262.2" y="414.0" font-size="16" fill="#000" text-anchor="middle" stroke="#000" stroke-width="0.35">*</text>
<text x="334.3" y="414.0" font-size="16" fill="#fff" text-anchor="middle" stroke="#fff" stroke-width="0.35">*</text>
<text x="286.2" y="427.1" font-size="16" fill="#000" text-anchor="middle" stroke="#000" stroke-width="0.35">*</text>
<text x="286.2" y="453.3" font-size="16" fill="#000" text-anchor="middle" stroke="#000" stroke-width="0.35">*</text>
<text x="238.2" y="479.4" font-size="16" fill="#000" text-anchor="middle" stroke="#000" stroke-width="0.35">*</text>
<text x="262.2" y="479.4" font-size="16" fill="#000" text-anchor="middle" stroke="#000" stroke-width="0.35">*</text>
<text x="286.2" y="479.4" font-size="16" fill="#000" text-anchor="middle" stroke="#000" stroke-width="0.35">*</text>
<text x="334.3" y="479.4" font-size="16" fill="#000" text-anchor="middle" stroke="#000" stroke-width="0.35">*</text>
<rect x="220.7" y="20.7" width="121.8" height="472.3" fill="none" stroke="#000" stroke-width="1.8"/>
<rect x="344.9" y="20.0" width="16.9" height="178.0" fill="#FFFC62"/>
<rect x="344.6" y="198.0" width="17.9" height="211.0" fill="#D4EBBB"/>
<rect x="344.6" y="409.0" width="16.6" height="84.5" fill="#99DDF7"/>
<text x="356.3" y="106.0" font-size="11.3" fill="#000" font-weight="bold" text-anchor="middle" textLength="156.0" lengthAdjust="spacingAndGlyphs" transform="rotate(-90 356.3 106.0)">Starch component and granule size</text>
<text x="355.8" y="274.0" font-size="10.5" fill="#2E3A18" font-weight="bold" text-anchor="middle" textLength="112.0" lengthAdjust="spacingAndGlyphs" transform="rotate(-90 355.8 274.0)">Starch structure features</text>
<text x="354.5" y="449.7" font-size="9.5" fill="#000" font-weight="bold" text-anchor="middle" textLength="69.0" lengthAdjust="spacingAndGlyphs" transform="rotate(-90 354.5 449.7)">Starch viscosity</text>
<text x="367.7" y="32.6" font-size="12" fill="#000" font-weight="bold" letter-spacing="0.12">Starch</text>
<text x="367.7" y="45.7" font-size="12" fill="#000" font-weight="bold" letter-spacing="0.12">Amylose</text>
<text x="367.7" y="58.8" font-size="12" fill="#000" font-weight="bold" letter-spacing="0.12">Amylopectin</text>
<text x="367.7" y="71.8" font-size="12" fill="#000" font-weight="bold" letter-spacing="0.12">Am/Ap</text>
<text x="367.7" y="84.9" font-size="12" fill="#000" font-weight="bold" letter-spacing="0.12">Volume &lt;10 μm</text>
<text x="367.7" y="98.0" font-size="12" fill="#000" font-weight="bold" letter-spacing="0.12">Volume >10 μm</text>
<text x="367.7" y="111.1" font-size="12" fill="#000" font-weight="bold" letter-spacing="0.12">Surface area &lt;10 μm</text>
<text x="367.7" y="124.2" font-size="12" fill="#000" font-weight="bold" letter-spacing="0.12">Surface area >10μm</text>
<text x="367.7" y="137.2" font-size="12" fill="#000" font-weight="bold" letter-spacing="0.12">Number &lt;10 μm</text>
<text x="367.7" y="150.3" font-size="12" fill="#000" font-weight="bold" letter-spacing="0.12">Number >10μm</text>
<text x="367.7" y="163.4" font-size="12" fill="#000" font-weight="bold" letter-spacing="0.12">D[1,0]</text>
<text x="367.7" y="176.5" font-size="12" fill="#000" font-weight="bold" letter-spacing="0.12">D[3,2]</text>
<text x="367.7" y="189.6" font-size="12" fill="#000" font-weight="bold" letter-spacing="0.12">D[4,3]</text>
<text x="367.7" y="202.6" font-size="12" fill="#000" font-weight="bold" letter-spacing="0.12">Span</text>
<text x="367.7" y="215.7" font-size="12" fill="#000" font-weight="bold" letter-spacing="0.12">Mn</text>
<text x="367.7" y="228.8" font-size="12" fill="#000" font-weight="bold" letter-spacing="0.12">Mp</text>
<text x="367.7" y="241.9" font-size="12" fill="#000" font-weight="bold" letter-spacing="0.12">Mw</text>
<text x="367.7" y="255.0" font-size="12" fill="#000" font-weight="bold" letter-spacing="0.12">Mz</text>
<text x="367.7" y="268.0" font-size="12" fill="#000" font-weight="bold" letter-spacing="0.12">Polydispersity</text>
<text x="367.7" y="281.1" font-size="12" fill="#000" font-weight="bold" letter-spacing="0.12">Rn</text>
<text x="367.7" y="294.2" font-size="12" fill="#000" font-weight="bold" letter-spacing="0.12">Rw</text>
<text x="367.7" y="307.3" font-size="12" fill="#000" font-weight="bold" letter-spacing="0.12">Rz</text>
<text x="367.7" y="320.4" font-size="12" fill="#000" font-weight="bold" letter-spacing="0.12">A chains</text>
<text x="367.7" y="333.4" font-size="12" fill="#000" font-weight="bold" letter-spacing="0.12">B1 chains</text>
<text x="367.7" y="346.5" font-size="12" fill="#000" font-weight="bold" letter-spacing="0.12">B2 chains</text>
<text x="367.7" y="359.6" font-size="12" fill="#000" font-weight="bold" letter-spacing="0.12">B3 chains</text>
<text x="367.7" y="372.7" font-size="12" fill="#000" font-weight="bold" letter-spacing="0.12">Short/long</text>
<text x="367.7" y="385.8" font-size="12" fill="#000" font-weight="bold" letter-spacing="0.12">Crystallinity</text>
<text x="367.7" y="398.8" font-size="12" fill="#000" font-weight="bold" letter-spacing="0.12">1045/1022 cm<tspan font-size='7' dy='-4'>-1</tspan></text>
<text x="367.7" y="411.9" font-size="12" fill="#000" font-weight="bold" letter-spacing="0.12">1022/995 cm<tspan font-size='7' dy='-4'>-1</tspan></text>
<text x="367.7" y="425.0" font-size="12" fill="#000" font-weight="bold" letter-spacing="0.12">Peak viscosity</text>
<text x="367.7" y="438.1" font-size="12" fill="#000" font-weight="bold" letter-spacing="0.12">Trough viscosity</text>
<text x="367.7" y="451.2" font-size="12" fill="#000" font-weight="bold" letter-spacing="0.12">Breakdown value</text>
<text x="367.7" y="464.2" font-size="12" fill="#000" font-weight="bold" letter-spacing="0.12">Final viscosity</text>
<text x="367.7" y="477.3" font-size="12" fill="#000" font-weight="bold" letter-spacing="0.12">Setback viscosity</text>
<text x="367.7" y="490.4" font-size="12" fill="#000" font-weight="bold" letter-spacing="0.12">Pasting Temp</text>
<text x="229.6" y="496.3" font-size="15.4" fill="#000" font-weight="bold" transform="rotate(90 229.6 496.3)">Diameter</text>
<text x="253.6" y="496.3" font-size="15.4" fill="#000" font-weight="bold" transform="rotate(90 253.6 496.3)">Thickness</text>
<text x="277.6" y="496.3" font-size="15.4" fill="#000" font-weight="bold" transform="rotate(90 277.6 496.3)">Hardness</text>
<text x="301.7" y="496.3" font-size="15.4" fill="#000" font-weight="bold" transform="rotate(90 301.7 496.3)">Resilience</text>
<text x="325.7" y="496.3" font-size="15.4" fill="#000" font-weight="bold" transform="rotate(90 325.7 496.3)">Spread ratio</text>
<text x="479.8" y="50.7" font-size="35" fill="#000" font-weight="bold" textLength="22.5" lengthAdjust="spacingAndGlyphs">B</text>
<line x1="704.5" y1="14.9" x2="704.5" y2="262.8" stroke="#888888" stroke-width="1.7"/>
<line x1="553.7" y1="14.9" x2="557.7" y2="14.9" stroke="#000" stroke-width="1.2"/>
<line x1="553.7" y1="76.8" x2="557.7" y2="76.8" stroke="#000" stroke-width="1.2"/>
<line x1="553.7" y1="138.8" x2="557.7" y2="138.8" stroke="#000" stroke-width="1.2"/>
<line x1="553.7" y1="200.8" x2="557.7" y2="200.8" stroke="#000" stroke-width="1.2"/>
<line x1="553.7" y1="262.7" x2="557.7" y2="262.7" stroke="#000" stroke-width="1.2"/>
<line x1="555.2" y1="45.9" x2="557.7" y2="45.9" stroke="#000" stroke-width="1.2"/>
<line x1="555.2" y1="107.8" x2="557.7" y2="107.8" stroke="#000" stroke-width="1.2"/>
<line x1="555.2" y1="169.8" x2="557.7" y2="169.8" stroke="#000" stroke-width="1.2"/>
<line x1="555.2" y1="231.7" x2="557.7" y2="231.7" stroke="#000" stroke-width="1.2"/>
<line x1="587.7" y1="262.8" x2="587.7" y2="266.8" stroke="#000" stroke-width="1.2"/>
<line x1="646.1" y1="262.8" x2="646.1" y2="266.8" stroke="#000" stroke-width="1.2"/>
<line x1="704.5" y1="262.8" x2="704.5" y2="266.8" stroke="#000" stroke-width="1.2"/>
<line x1="762.9" y1="262.8" x2="762.9" y2="266.8" stroke="#000" stroke-width="1.2"/>
<line x1="821.3" y1="262.8" x2="821.3" y2="266.8" stroke="#000" stroke-width="1.2"/>
<line x1="616.9" y1="262.8" x2="616.9" y2="265.3" stroke="#000" stroke-width="1.2"/>
<line x1="675.3" y1="262.8" x2="675.3" y2="265.3" stroke="#000" stroke-width="1.2"/>
<line x1="733.7" y1="262.8" x2="733.7" y2="265.3" stroke="#000" stroke-width="1.2"/>
<line x1="792.1" y1="262.8" x2="792.1" y2="265.3" stroke="#000" stroke-width="1.2"/>
<line x1="606.5" y1="14.9" x2="606.5" y2="18.9" stroke="#000" stroke-width="1.2"/>
<line x1="704.5" y1="14.9" x2="704.5" y2="18.9" stroke="#000" stroke-width="1.2"/>
<line x1="802.5" y1="14.9" x2="802.5" y2="18.9" stroke="#000" stroke-width="1.2"/>
<line x1="655.5" y1="14.9" x2="655.5" y2="17.4" stroke="#000" stroke-width="1.2"/>
<line x1="753.5" y1="14.9" x2="753.5" y2="17.4" stroke="#000" stroke-width="1.2"/>
<line x1="847.6" y1="14.8" x2="851.6" y2="14.8" stroke="#000" stroke-width="1.2"/>
<line x1="847.6" y1="76.8" x2="851.6" y2="76.8" stroke="#000" stroke-width="1.2"/>
<line x1="847.6" y1="138.8" x2="851.6" y2="138.8" stroke="#000" stroke-width="1.2"/>
<line x1="847.6" y1="200.8" x2="851.6" y2="200.8" stroke="#000" stroke-width="1.2"/>
<line x1="847.6" y1="262.8" x2="851.6" y2="262.8" stroke="#000" stroke-width="1.2"/>
<line x1="849.1" y1="45.8" x2="851.6" y2="45.8" stroke="#000" stroke-width="1.2"/>
<line x1="849.1" y1="107.8" x2="851.6" y2="107.8" stroke="#000" stroke-width="1.2"/>
<line x1="849.1" y1="169.8" x2="851.6" y2="169.8" stroke="#000" stroke-width="1.2"/>
<line x1="849.1" y1="231.8" x2="851.6" y2="231.8" stroke="#000" stroke-width="1.2"/>
<text x="551.0" y="20.2" font-size="15.5" fill="#000" font-weight="bold" text-anchor="end">8</text>
<text x="551.0" y="82.1" font-size="15.5" fill="#000" font-weight="bold" text-anchor="end">4</text>
<text x="551.0" y="144.1" font-size="15.5" fill="#000" font-weight="bold" text-anchor="end">0</text>
<text x="551.0" y="206.1" font-size="15.5" fill="#000" font-weight="bold" text-anchor="end">-4</text>
<text x="551.0" y="268.0" font-size="15.5" fill="#000" font-weight="bold" text-anchor="end">-8</text>
<text x="587.7" y="280.3" font-size="13.5" fill="#000" font-weight="bold" text-anchor="middle">-10</text>
<text x="646.1" y="280.3" font-size="13.5" fill="#000" font-weight="bold" text-anchor="middle">-5</text>
<text x="704.5" y="280.3" font-size="13.5" fill="#000" font-weight="bold" text-anchor="middle">0</text>
<text x="762.9" y="280.3" font-size="13.5" fill="#000" font-weight="bold" text-anchor="middle">5</text>
<text x="821.3" y="280.3" font-size="13.5" fill="#000" font-weight="bold" text-anchor="middle">10</text>
<text x="606.5" y="11.7" font-size="13" fill="#000" font-weight="bold" text-anchor="middle">-0.2</text>
<text x="704.5" y="11.7" font-size="13" fill="#000" font-weight="bold" text-anchor="middle">0.0</text>
<text x="802.5" y="11.7" font-size="13" fill="#000" font-weight="bold" text-anchor="middle">0.2</text>
<text x="855.9" y="18.8" font-size="11" fill="#000" font-weight="bold">0.4</text>
<text x="855.9" y="80.8" font-size="11" fill="#000" font-weight="bold">0.2</text>
<text x="855.9" y="142.8" font-size="11" fill="#000" font-weight="bold">0.0</text>
<text x="855.9" y="204.8" font-size="11" fill="#000" font-weight="bold">-0.2</text>
<text x="855.9" y="266.8" font-size="11" fill="#000" font-weight="bold">-0.4</text>
<text x="662.3" y="294.7" font-size="16" fill="#000" font-weight="bold" textLength="85.0" lengthAdjust="spacingAndGlyphs">PC1 (41.2%)</text>
<text x="534.5" y="137.4" font-size="16" fill="#000" font-weight="bold" text-anchor="middle" textLength="85.8" lengthAdjust="spacingAndGlyphs" transform="rotate(-90 534.5 137.4)">PC2 (23.7%)</text>
<line x1="557.7" y1="138.8" x2="851.6" y2="138.8" stroke="#000" stroke-width="1.4"/>
<line x1="704.5" y1="138.8" x2="663.5" y2="68.4" stroke="#000" stroke-width="0.8"/>
<polygon points="660.9,63.9 666.2,68.3 662.1,70.7" fill="#000"/>
<line x1="704.5" y1="138.8" x2="683.6" y2="103.0" stroke="#000" stroke-width="0.8"/>
<polygon points="681.0,98.5 686.3,102.9 682.2,105.3" fill="#000"/>
<line x1="704.5" y1="138.8" x2="695.6" y2="129.3" stroke="#000" stroke-width="0.8"/>
<polygon points="692.0,125.5 698.2,128.6 694.7,131.9" fill="#000"/>
<line x1="704.5" y1="138.8" x2="632.8" y2="221.3" stroke="#000" stroke-width="0.8"/>
<polygon points="629.4,225.2 631.9,218.7 635.5,221.9" fill="#000"/>
<line x1="704.5" y1="138.8" x2="703.1" y2="61.5" stroke="#000" stroke-width="0.8"/>
<polygon points="703.0,56.3 705.5,62.8 700.7,62.8" fill="#000"/>
<line x1="704.5" y1="138.8" x2="705.9" y2="68.2" stroke="#000" stroke-width="0.8"/>
<polygon points="706.0,63.0 708.3,69.5 703.5,69.5" fill="#000"/>
<line x1="704.5" y1="138.8" x2="698.9" y2="66.2" stroke="#000" stroke-width="0.8"/>
<polygon points="698.5,61.0 701.4,67.3 696.6,67.7" fill="#000"/>
<line x1="704.5" y1="138.8" x2="704.5" y2="107.2" stroke="#000" stroke-width="0.8"/>
<polygon points="704.5,102.0 706.9,108.5 702.1,108.5" fill="#000"/>
<line x1="704.5" y1="138.8" x2="757.0" y2="70.0" stroke="#000" stroke-width="0.8"/>
<polygon points="760.2,65.9 758.2,72.5 754.3,69.6" fill="#000"/>
<line x1="704.5" y1="138.8" x2="782.1" y2="62.4" stroke="#000" stroke-width="0.8"/>
<polygon points="785.8,58.8 782.9,65.1 779.5,61.6" fill="#000"/>
<line x1="704.5" y1="138.8" x2="777.8" y2="74.7" stroke="#000" stroke-width="0.8"/>
<polygon points="781.7,71.3 778.4,77.4 775.2,73.8" fill="#000"/>
<line x1="704.5" y1="138.8" x2="784.1" y2="85.1" stroke="#000" stroke-width="0.8"/>
<polygon points="788.4,82.2 784.4,87.8 781.7,83.8" fill="#000"/>
<line x1="704.5" y1="138.8" x2="730.6" y2="126.6" stroke="#000" stroke-width="0.8"/>
<polygon points="735.3,124.4 730.4,129.3 728.4,125.0" fill="#000"/>
<line x1="704.5" y1="138.8" x2="776.8" y2="133.1" stroke="#000" stroke-width="0.8"/>
<polygon points="782.0,132.7 775.7,135.6 775.3,130.8" fill="#000"/>
<line x1="704.5" y1="138.8" x2="795.8" y2="137.3" stroke="#000" stroke-width="0.8"/>
<polygon points="801.0,137.2 794.5,139.7 794.5,134.9" fill="#000"/>
<line x1="704.5" y1="138.8" x2="780.6" y2="176.5" stroke="#000" stroke-width="0.8"/>
<polygon points="785.3,178.8 778.4,178.1 780.5,173.8" fill="#000"/>
<line x1="704.5" y1="138.8" x2="766.2" y2="195.0" stroke="#000" stroke-width="0.8"/>
<polygon points="770.0,198.5 763.6,195.9 766.8,192.3" fill="#000"/>
<line x1="704.5" y1="138.8" x2="770.7" y2="206.6" stroke="#000" stroke-width="0.8"/>
<polygon points="774.3,210.3 768.0,207.3 771.5,204.0" fill="#000"/>
<line x1="704.5" y1="138.8" x2="768.8" y2="203.8" stroke="#000" stroke-width="0.8"/>
<polygon points="772.5,207.5 766.2,204.6 769.6,201.2" fill="#000"/>
<line x1="704.5" y1="138.8" x2="749.8" y2="213.9" stroke="#000" stroke-width="0.8"/>
<polygon points="752.5,218.4 747.1,214.1 751.2,211.6" fill="#000"/>
<line x1="704.5" y1="138.8" x2="639.9" y2="141.6" stroke="#000" stroke-width="0.8"/>
<polygon points="634.7,141.8 641.1,139.1 641.3,143.9" fill="#000"/>
<line x1="704.5" y1="138.8" x2="723.1" y2="82.4" stroke="#000" stroke-width="0.8" stroke-dasharray="3,1.6"/>
<polygon points="724.7,77.5 724.9,84.4 720.4,82.9" fill="#000"/>
<line x1="704.5" y1="138.8" x2="755.9" y2="128.9" stroke="#000" stroke-width="0.8" stroke-dasharray="3,1.6"/>
<polygon points="761.0,127.9 755.1,131.5 754.2,126.8" fill="#000"/>
<line x1="704.5" y1="138.8" x2="818.0" y2="153.3" stroke="#000" stroke-width="0.8" stroke-dasharray="3,1.6"/>
<polygon points="823.2,154.0 816.4,155.6 817.1,150.8" fill="#000"/>
<line x1="704.5" y1="138.8" x2="806.3" y2="159.6" stroke="#000" stroke-width="0.8" stroke-dasharray="3,1.6"/>
<polygon points="811.4,160.6 804.6,161.7 805.5,156.9" fill="#000"/>
<line x1="704.5" y1="138.8" x2="589.0" y2="114.3" stroke="#000" stroke-width="0.8" stroke-dasharray="3,1.6"/>
<polygon points="583.9,113.2 590.8,112.2 589.8,116.9" fill="#000"/>
<line x1="704.5" y1="138.8" x2="601.6" y2="117.2" stroke="#000" stroke-width="0.8" stroke-dasharray="3,1.6"/>
<polygon points="596.5,116.1 603.4,115.1 602.4,119.8" fill="#000"/>
<line x1="704.5" y1="138.8" x2="617.0" y2="121.7" stroke="#000" stroke-width="0.8" stroke-dasharray="3,1.6"/>
<polygon points="611.9,120.7 618.7,119.6 617.8,124.3" fill="#000"/>
<line x1="704.5" y1="138.8" x2="591.4" y2="123.1" stroke="#000" stroke-width="0.8" stroke-dasharray="3,1.6"/>
<polygon points="586.2,122.4 593.0,120.9 592.3,125.7" fill="#000"/>
<line x1="704.5" y1="138.8" x2="588.0" y2="147.3" stroke="#000" stroke-width="0.8" stroke-dasharray="3,1.6"/>
<polygon points="582.8,147.7 589.1,144.8 589.5,149.6" fill="#000"/>
<line x1="704.0" y1="138.8" x2="703.7" y2="60.0" stroke="#000" stroke-width="1.6"/>
<line x1="704.5" y1="138.8" x2="809.0" y2="132.4" stroke="#FF0000" stroke-width="2.0"/>
<polygon points="815.8,132.0 807.5,135.8 807.1,129.2" fill="#FF0000"/>
<line x1="704.5" y1="138.8" x2="814.9" y2="143.1" stroke="#FF0000" stroke-width="2.0"/>
<polygon points="821.7,143.4 813.1,146.4 813.3,139.8" fill="#FF0000"/>
<line x1="704.5" y1="138.8" x2="598.7" y2="142.7" stroke="#FF0000" stroke-width="2.0"/>
<polygon points="591.9,142.9 600.3,139.3 600.5,145.9" fill="#FF0000"/>
<line x1="704.5" y1="138.8" x2="647.6" y2="187.6" stroke="#FF0000" stroke-width="2.0"/>
<polygon points="642.4,192.0 646.7,184.0 651.0,189.0" fill="#FF0000"/>
<line x1="704.5" y1="138.8" x2="675.7" y2="182.8" stroke="#FF0000" stroke-width="2.0"/>
<polygon points="672.0,188.5 673.9,179.6 679.4,183.2" fill="#FF0000"/>
<rect x="557.7" y="14.9" width="293.9" height="247.9" fill="none" stroke="#000" stroke-width="1.8"/>
<text x="644.6" y="58.2" font-size="8.8" fill="#000" font-weight="bold" textLength="23.0" lengthAdjust="spacingAndGlyphs">D[3,2]</text>
<text x="678.0" y="47.0" font-size="8.8" fill="#000" font-weight="bold" textLength="47.6" lengthAdjust="spacingAndGlyphs">Amylopectin</text>
<text x="708.5" y="60.5" font-size="8.8" fill="#000" font-weight="bold" textLength="40.4" lengthAdjust="spacingAndGlyphs">Short/long</text>
<text x="714.8" y="73.0" font-size="8.8" fill="#000" font-weight="bold" textLength="25.5" lengthAdjust="spacingAndGlyphs">Starch</text>
<text x="684.3" y="81.5" font-size="8.8" fill="#000" font-weight="bold" textLength="32.7" lengthAdjust="spacingAndGlyphs">A chains</text>
<text x="686.8" y="101.6" font-size="8.8" fill="#000" font-weight="bold" textLength="11.7" lengthAdjust="spacingAndGlyphs">TV</text>
<text x="707.6" y="109.7" font-size="8.8" fill="#000" font-weight="bold" textLength="9.5" lengthAdjust="spacingAndGlyphs">FY</text>
<text x="677.5" y="126.0" font-size="8.8" fill="#000" font-weight="bold" textLength="11.3" lengthAdjust="spacingAndGlyphs">PV</text>
<text x="714.0" y="119.6" font-size="8.8" fill="#000" font-weight="bold" textLength="36.7" lengthAdjust="spacingAndGlyphs">B2 chains</text>
<text x="756.0" y="60.0" font-size="8.8" fill="#000" font-weight="bold" textLength="19.1" lengthAdjust="spacingAndGlyphs">Span</text>
<text x="784.4" y="53.3" font-size="8.8" fill="#000" font-weight="bold" textLength="14.6" lengthAdjust="spacingAndGlyphs">Mw</text>
<text x="783.8" y="71.6" font-size="8.8" fill="#000" font-weight="bold" textLength="23.0" lengthAdjust="spacingAndGlyphs">D[1,0]</text>
<text x="792.0" y="84.2" font-size="8.8" fill="#000" font-weight="bold" textLength="13.2" lengthAdjust="spacingAndGlyphs">Mn</text>
<text x="757.4" y="122.0" font-size="8.8" fill="#000" font-weight="bold" textLength="13.6" lengthAdjust="spacingAndGlyphs">Mp</text>
<text x="773.3" y="129.0" font-size="8.8" fill="#000" font-weight="bold" textLength="11.7" lengthAdjust="spacingAndGlyphs">Mz</text>
<text x="790.2" y="127.2" font-size="8.8" fill="#000" font-weight="bold" textLength="12.4" lengthAdjust="spacingAndGlyphs">Rw</text>
<text x="743.7" y="151.0" font-size="8.8" fill="#000" font-weight="bold" textLength="64.8" lengthAdjust="spacingAndGlyphs">Volume (&lt;10μm)</text>
<text x="759.4" y="166.5" font-size="8.8" fill="#000" font-weight="bold" textLength="83.6" lengthAdjust="spacingAndGlyphs">Surface area (&lt;10μm)</text>
<text x="790.6" y="178.8" font-size="8.8" fill="#000" font-weight="bold" textLength="37.3" lengthAdjust="spacingAndGlyphs">B3 chains</text>
<text x="770.3" y="193.2" font-size="8.8" fill="#000" font-weight="bold" textLength="32.6" lengthAdjust="spacingAndGlyphs">Amylose</text>
<text x="765.6" y="221.5" font-size="8.8" fill="#000" font-weight="bold" textLength="48.0" lengthAdjust="spacingAndGlyphs">Crystallinity</text>
<text x="730.1" y="226.6" font-size="8.8" fill="#000" font-weight="bold" textLength="28.9" lengthAdjust="spacingAndGlyphs">Am/Ap</text>
<text x="559.4" y="104.1" font-size="8.8" fill="#000" font-weight="bold" textLength="84.4" lengthAdjust="spacingAndGlyphs">Surface area (&gt;10μm)</text>
<text x="559.4" y="128.6" font-size="8.8" fill="#000" font-weight="bold" textLength="64.4" lengthAdjust="spacingAndGlyphs">Volume (&gt;10μm)</text>
<text x="576.5" y="157.5" font-size="8.8" fill="#000" font-weight="bold" textLength="22.8" lengthAdjust="spacingAndGlyphs">D[4,3]</text>
<text x="617.2" y="152.0" font-size="8.8" fill="#000" font-weight="bold" textLength="55.1" lengthAdjust="spacingAndGlyphs">Polydispersity</text>
<text x="612.9" y="235.8" font-size="8.8" fill="#000" font-weight="bold" textLength="37.8" lengthAdjust="spacingAndGlyphs">B1 chains</text>
<text x="779.0" y="206.8" font-size="8.8" fill="#000" font-weight="bold" textLength="54.4" lengthAdjust="spacingAndGlyphs">1045/1022cm<tspan font-size="6" dy="-3.2">-1</tspan></text>
<text x="618.3" y="116.7" font-size="8.8" fill="#000" font-weight="bold" textLength="48.0" lengthAdjust="spacingAndGlyphs">1022/995 cm<tspan font-size="6" dy="-3.2">-1</tspan></text>
<text x="797.4" y="117.8" font-size="9.2" fill="#FF0000" font-weight="bold" textLength="48.8" lengthAdjust="spacingAndGlyphs">Spread ratio</text>
<text x="812.2" y="137.1" font-size="9.2" fill="#FF0000" font-weight="bold" textLength="34.4" lengthAdjust="spacingAndGlyphs">Diameter</text>
<text x="607.9" y="136.6" font-size="9.2" fill="#FF0000" font-weight="bold" textLength="37.6" lengthAdjust="spacingAndGlyphs">Thickness</text>
<text x="605.8" y="199.9" font-size="9.2" fill="#FF0000" font-weight="bold" textLength="36.2" lengthAdjust="spacingAndGlyphs">Hardness</text>
<text x="659.4" y="200.3" font-size="9.2" fill="#FF0000" font-weight="bold" textLength="38.5" lengthAdjust="spacingAndGlyphs">Resilience</text>
<text x="921.3" y="52.3" font-size="37.5" fill="#000" font-weight="bold" textLength="23.5" lengthAdjust="spacingAndGlyphs">C</text>
<line x1="1006.6" y1="44.0" x2="1072.8" y2="70.3" stroke="#111111" stroke-width="1.3"/>
<polygon points="1076.5,71.8 1069.5,71.8 1071.4,67.0" fill="#111111"/>
<line x1="1076.5" y1="43.7" x2="1076.5" y2="67.8" stroke="#111111" stroke-width="1.3"/>
<polygon points="1076.5,71.8 1073.9,65.3 1079.1,65.3" fill="#111111"/>
<line x1="1170.0" y1="43.2" x2="1082.3" y2="70.6" stroke="#111111" stroke-width="1.3"/>
<polygon points="1078.5,71.8 1083.9,67.4 1085.5,72.3" fill="#111111"/>
<line x1="1072.3" y1="111.6" x2="1033.3" y2="137.5" stroke="#111111" stroke-width="1.3"/>
<polygon points="1030.0,139.7 1034.0,133.9 1036.9,138.3" fill="#111111"/>
<polygon points="1075.6,109.4 1071.6,115.2 1068.7,110.8" fill="#111111"/>
<line x1="1076.5" y1="113.4" x2="1076.5" y2="206.0" stroke="#111111" stroke-width="1.3"/>
<polygon points="1076.5,210.0 1073.9,203.5 1079.1,203.5" fill="#111111"/>
<polygon points="1076.5,109.4 1079.1,115.9 1073.9,115.9" fill="#111111"/>
<line x1="1080.7" y1="111.6" x2="1120.5" y2="137.5" stroke="#111111" stroke-width="1.3"/>
<polygon points="1123.9,139.7 1117.0,138.3 1119.9,134.0" fill="#111111"/>
<polygon points="1077.3,109.4 1084.2,110.8 1081.3,115.1" fill="#111111"/>
<line x1="1057.4" y1="158.4" x2="1089.8" y2="158.4" stroke="#111111" stroke-width="1.3"/>
<polygon points="1093.8,158.4 1087.3,161.0 1087.3,155.8" fill="#111111"/>
<line x1="969.2" y1="110.7" x2="997.3" y2="154.1" stroke="#111111" stroke-width="1.3"/>
<polygon points="999.5,157.5 993.8,153.5 998.1,150.6" fill="#111111"/>
<line x1="970.8" y1="161.2" x2="995.5" y2="158.6" stroke="#111111" stroke-width="1.3"/>
<polygon points="999.5,158.2 993.3,161.5 992.8,156.3" fill="#111111"/>
<line x1="972.8" y1="198.5" x2="997.3" y2="162.3" stroke="#111111" stroke-width="1.3"/>
<polygon points="999.5,159.0 998.0,165.8 993.7,162.9" fill="#111111"/>
<line x1="1188.2" y1="112.8" x2="1160.0" y2="155.1" stroke="#111111" stroke-width="1.3"/>
<polygon points="1157.8,158.4 1159.2,151.5 1163.6,154.4" fill="#111111"/>
<line x1="1191.1" y1="162.5" x2="1161.8" y2="158.9" stroke="#111111" stroke-width="1.3"/>
<polygon points="1157.8,158.4 1164.6,156.6 1163.9,161.8" fill="#111111"/>
<line x1="1190.0" y1="208.6" x2="1160.0" y2="161.8" stroke="#111111" stroke-width="1.3"/>
<polygon points="1157.8,158.4 1163.5,162.5 1159.1,165.3" fill="#111111"/>
<line x1="1030.0" y1="177.1" x2="1072.6" y2="207.7" stroke="#111111" stroke-width="1.3"/>
<polygon points="1075.8,210.0 1069.0,208.3 1072.0,204.1" fill="#111111"/>
<line x1="1123.9" y1="177.1" x2="1080.6" y2="207.7" stroke="#111111" stroke-width="1.3"/>
<polygon points="1077.3,210.0 1081.1,204.1 1084.1,208.4" fill="#111111"/>
<line x1="991.3" y1="264.2" x2="1072.3" y2="232.7" stroke="#111111" stroke-width="1.3"/>
<polygon points="1076.0,231.2 1070.9,236.0 1069.0,231.1" fill="#111111"/>
<line x1="1076.8" y1="264.2" x2="1076.8" y2="235.2" stroke="#111111" stroke-width="1.3"/>
<polygon points="1076.8,231.2 1079.4,237.7 1074.2,237.7" fill="#111111"/>
<line x1="1159.5" y1="264.6" x2="1081.3" y2="232.7" stroke="#111111" stroke-width="1.3"/>
<polygon points="1077.6,231.2 1084.6,231.2 1082.6,236.1" fill="#111111"/>
<rect x="978.5" y="23.4" width="54.1" height="20.6" fill="#fff" stroke="#111111" stroke-width="1.4" rx="3.5"/>
<text x="985.7" y="38.3" font-size="11.5" fill="#000" font-weight="bold" textLength="39.7" lengthAdjust="spacingAndGlyphs">B2-chain</text>
<rect x="1049.6" y="22.9" width="53.3" height="20.8" fill="#fff" stroke="#111111" stroke-width="1.4" rx="3.5"/>
<text x="1056.3" y="37.8" font-size="11.5" fill="#000" font-weight="bold" textLength="39.9" lengthAdjust="spacingAndGlyphs">B1-chain</text>
<rect x="1115.4" y="22.2" width="111.1" height="21.0" fill="#fff" stroke="#111111" stroke-width="1.4" rx="3.5"/>
<text x="1121.3" y="37.2" font-size="11.5" fill="#000" font-weight="bold" textLength="99.8" lengthAdjust="spacingAndGlyphs">Amylose/Amylopectin</text>
<rect x="914.1" y="100.3" width="55.5" height="20.0" fill="#fff" stroke="#111111" stroke-width="1.4" rx="3.5"/>
<text x="924.0" y="114.6" font-size="11.5" fill="#000" font-weight="bold" textLength="35.3" lengthAdjust="spacingAndGlyphs">Volume</text>
<rect x="915.5" y="150.4" width="54.8" height="19.9" fill="#fff" stroke="#111111" stroke-width="1.4" rx="3.5"/>
<text x="922.8" y="164.8" font-size="11.5" fill="#000" font-weight="bold" textLength="40.6" lengthAdjust="spacingAndGlyphs">1025/995</text>
<rect x="917.8" y="196.1" width="55.2" height="19.8" fill="#fff" stroke="#111111" stroke-width="1.4" rx="3.5"/>
<text x="936.5" y="210.4" font-size="11.5" fill="#000" font-weight="bold" textLength="17.8" lengthAdjust="spacingAndGlyphs">Mw</text>
<rect x="1188.2" y="101.4" width="60.6" height="21.0" fill="#fff" stroke="#111111" stroke-width="1.4" rx="3.5"/>
<text x="1200.3" y="116.9" font-size="11.5" fill="#000" font-weight="bold" textLength="36.4" lengthAdjust="spacingAndGlyphs">Peak vis</text>
<rect x="1191.1" y="151.6" width="60.5" height="21.0" fill="#fff" stroke="#111111" stroke-width="1.4" rx="3.5"/>
<text x="1197.3" y="166.4" font-size="11.5" fill="#000" font-weight="bold" textLength="48.6" lengthAdjust="spacingAndGlyphs">Trough vis</text>
<rect x="1190.0" y="199.5" width="60.4" height="20.9" fill="#fff" stroke="#111111" stroke-width="1.4" rx="3.5"/>
<text x="1201.8" y="214.3" font-size="11.5" fill="#000" font-weight="bold" textLength="37.9" lengthAdjust="spacingAndGlyphs">Final vis</text>
<rect x="954.5" y="264.2" width="69.3" height="20.5" fill="#fff" stroke="#111111" stroke-width="1.4" rx="3.5"/>
<text x="960.5" y="279.1" font-size="11.5" fill="#000" font-weight="bold" textLength="57.8" lengthAdjust="spacingAndGlyphs">Spread ratio</text>
<rect x="1046.3" y="264.2" width="60.9" height="20.5" fill="#fff" stroke="#111111" stroke-width="1.4" rx="3.5"/>
<text x="1054.5" y="279.1" font-size="11.5" fill="#000" font-weight="bold" textLength="45.3" lengthAdjust="spacingAndGlyphs">Resilience</text>
<rect x="1130.0" y="264.6" width="61.1" height="21.4" fill="#fff" stroke="#111111" stroke-width="1.4" rx="3.5"/>
<text x="1139.1" y="279.7" font-size="11.5" fill="#000" font-weight="bold" textLength="43.3" lengthAdjust="spacingAndGlyphs">Hardness</text>
<rect x="995.9" y="71.8" width="161.6" height="37.2" fill="#fff" stroke="#111111" stroke-width="1.4"/>
<text x="1011.1" y="87.0" font-size="12.3" fill="#000" font-weight="bold" textLength="130.3" lengthAdjust="spacingAndGlyphs">Amylose and amylopectin</text>
<text x="1021.9" y="102.3" font-size="12.3" fill="#000" font-weight="bold" textLength="108.4" lengthAdjust="spacingAndGlyphs">short and long chains</text>
<rect x="999.7" y="139.7" width="57.7" height="37.4" fill="#fff" stroke="#111111" stroke-width="1.4"/>
<text x="1004.5" y="155.0" font-size="12.8" fill="#000" font-weight="bold" textLength="33.5" lengthAdjust="spacingAndGlyphs">Starch</text>
<text x="1004.5" y="171.0" font-size="12.8" fill="#000" font-weight="bold" textLength="46.5" lengthAdjust="spacingAndGlyphs">structure</text>
<rect x="1093.8" y="139.7" width="63.8" height="37.4" fill="#fff" stroke="#111111" stroke-width="1.4"/>
<text x="1098.3" y="156.1" font-size="12.8" fill="#000" font-weight="bold" textLength="37.0" lengthAdjust="spacingAndGlyphs">Pasting</text>
<text x="1098.3" y="171.0" font-size="12.8" fill="#000" font-weight="bold" textLength="51.1" lengthAdjust="spacingAndGlyphs">properties</text>
<rect x="1040.9" y="210.0" width="71.7" height="21.2" fill="#fff" stroke="#111111" stroke-width="1.4"/>
<text x="1046.3" y="225.4" font-size="12.3" fill="#000" font-weight="bold" textLength="60.9" lengthAdjust="spacingAndGlyphs">Biscuit taste</text>
<text x="1017.4" y="63.8" font-size="12" fill="#000" font-weight="bold" textLength="18.8" lengthAdjust="spacingAndGlyphs">0.15</text>
<text x="1079.0" y="58.2" font-size="12" fill="#000" font-weight="bold" textLength="22.0" lengthAdjust="spacingAndGlyphs">-0.39</text>
<text x="1131.5" y="64.7" font-size="12" fill="#000" font-weight="bold" textLength="17.4" lengthAdjust="spacingAndGlyphs">0.63</text>
<text x="1022.7" y="124.2" font-size="12" fill="#000" font-weight="bold" textLength="22.1" lengthAdjust="spacingAndGlyphs">-0.60</text>
<text x="1062.4" y="131.0" font-size="12" fill="#000" font-weight="bold" textLength="21.2" lengthAdjust="spacingAndGlyphs">-0.77</text>
<text x="1112.5" y="127.6" font-size="12" fill="#000" font-weight="bold" textLength="21.6" lengthAdjust="spacingAndGlyphs">-0.93</text>
<text x="973.0" y="153.9" font-size="12" fill="#000" font-weight="bold" textLength="18.2" lengthAdjust="spacingAndGlyphs">0.62</text>
<text x="1057.4" y="173.6" font-size="12" fill="#000" font-weight="bold" textLength="19.4" lengthAdjust="spacingAndGlyphs">0.45</text>
<text x="1031.2" y="202.2" font-size="12" fill="#000" font-weight="bold" textLength="18.2" lengthAdjust="spacingAndGlyphs">0.74</text>
<text x="1108.3" y="200.6" font-size="12" fill="#000" font-weight="bold" textLength="18.3" lengthAdjust="spacingAndGlyphs">0.54</text>
<text x="1158.0" y="125.3" font-size="12" fill="#000" font-weight="bold" textLength="18.8" lengthAdjust="spacingAndGlyphs">0.50</text>
<text x="1170.6" y="156.1" font-size="12" fill="#000" font-weight="bold" textLength="18.2" lengthAdjust="spacingAndGlyphs">0.99</text>
<text x="1176.3" y="186.9" font-size="12" fill="#000" font-weight="bold" textLength="18.2" lengthAdjust="spacingAndGlyphs">0.89</text>
<text x="1008.7" y="245.4" font-size="12" fill="#000" font-weight="bold" textLength="18.5" lengthAdjust="spacingAndGlyphs">0.54</text>
<text x="1081.0" y="256.2" font-size="12" fill="#000" font-weight="bold" textLength="18.0" lengthAdjust="spacingAndGlyphs">0.33</text>
<text x="1137.7" y="250.9" font-size="12" fill="#000" font-weight="bold" textLength="18.3" lengthAdjust="spacingAndGlyphs">0.86</text>
<text x="988.6" y="128.3" font-size="12" fill="#000" font-weight="bold" text-anchor="middle" textLength="18.5" lengthAdjust="spacingAndGlyphs" transform="rotate(55 988.6 128.3)">1.05</text>
<text x="991.0" y="199.3" font-size="12" fill="#000" font-weight="bold" text-anchor="middle" textLength="22.5" lengthAdjust="spacingAndGlyphs" transform="rotate(-56 991.0 199.3)">-0.26</text>
<text x="1202.3" y="248.1" font-size="14" fill="#000" font-weight="bold" textLength="49.1" lengthAdjust="spacingAndGlyphs"><tspan font-style="italic">χ</tspan><tspan font-size="8" dy="-5">2</tspan><tspan dy="5"> = 71.98</tspan></text>
<text x="1203.0" y="264.6" font-size="14" fill="#000" font-weight="bold" textLength="46.3" lengthAdjust="spacingAndGlyphs"><tspan font-style="italic">df</tspan> = 38.0</text>
<text x="1203.4" y="281.0" font-size="14" fill="#000" font-weight="bold" textLength="45.2" lengthAdjust="spacingAndGlyphs"><tspan font-style="italic">P</tspan> = 0.001</text>
<text x="1203.4" y="297.2" font-size="14" fill="#000" font-weight="bold" textLength="53.6" lengthAdjust="spacingAndGlyphs"><tspan font-style="italic">CFI</tspan> = 0.87</text>
<text x="462.5" y="315.3" font-size="35" fill="#000" font-weight="bold" textLength="24.6" lengthAdjust="spacingAndGlyphs">D</text>
<text x="521.8" y="318.7" font-size="17" fill="#000" font-weight="bold" textLength="267.0" lengthAdjust="spacingAndGlyphs">Critical variable impact cookie taste</text>
<g stroke="#E6E6E6" stroke-width="0.8">
<line x1="571.9" y1="340.6" x2="730.1" y2="340.6"/>
<line x1="571.9" y1="355.0" x2="730.1" y2="355.0"/>
<line x1="571.9" y1="369.3" x2="730.1" y2="369.3"/>
<line x1="571.9" y1="383.7" x2="730.1" y2="383.7"/>
<line x1="571.9" y1="398.0" x2="730.1" y2="398.0"/>
<line x1="571.9" y1="412.4" x2="730.1" y2="412.4"/>
<line x1="571.9" y1="426.8" x2="730.1" y2="426.8"/>
<line x1="571.9" y1="441.1" x2="730.1" y2="441.1"/>
<line x1="571.9" y1="455.5" x2="730.1" y2="455.5"/>
<line x1="571.9" y1="469.8" x2="730.1" y2="469.8"/>
<line x1="571.9" y1="484.2" x2="730.1" y2="484.2"/>
<line x1="571.9" y1="498.6" x2="730.1" y2="498.6"/>
<line x1="571.9" y1="512.9" x2="730.1" y2="512.9"/>
<line x1="571.9" y1="527.3" x2="730.1" y2="527.3"/>
<line x1="571.9" y1="541.6" x2="730.1" y2="541.6"/>
</g>
<rect x="571.9" y="342.1" width="143.9" height="11.6" fill="#008000" stroke="#1B4D1B" stroke-width="0.6"/>
<rect x="571.9" y="356.5" width="129.6" height="11.6" fill="#008000" stroke="#1B4D1B" stroke-width="0.6"/>
<rect x="571.9" y="370.8" width="91.8" height="11.6" fill="#008000" stroke="#1B4D1B" stroke-width="0.6"/>
<rect x="571.9" y="385.2" width="88.6" height="11.6" fill="#008000" stroke="#1B4D1B" stroke-width="0.6"/>
<rect x="571.9" y="399.5" width="80.0" height="11.6" fill="#008000" stroke="#1B4D1B" stroke-width="0.6"/>
<rect x="571.9" y="413.9" width="75.5" height="11.6" fill="#008000" stroke="#1B4D1B" stroke-width="0.6"/>
<rect x="571.9" y="428.3" width="73.1" height="11.6" fill="#008000" stroke="#1B4D1B" stroke-width="0.6"/>
<rect x="571.9" y="442.6" width="70.9" height="11.6" fill="#008000" stroke="#1B4D1B" stroke-width="0.6"/>
<rect x="571.9" y="457.0" width="64.7" height="11.6" fill="#008000" stroke="#1B4D1B" stroke-width="0.6"/>
<rect x="571.9" y="471.3" width="60.8" height="11.6" fill="#008000" stroke="#1B4D1B" stroke-width="0.6"/>
<rect x="571.9" y="485.7" width="59.8" height="11.6" fill="#008000" stroke="#1B4D1B" stroke-width="0.6"/>
<rect x="571.9" y="500.1" width="45.5" height="11.6" fill="#008000" stroke="#1B4D1B" stroke-width="0.6"/>
<rect x="571.9" y="514.4" width="42.0" height="11.6" fill="#008000" stroke="#1B4D1B" stroke-width="0.6"/>
<rect x="571.9" y="528.8" width="41.2" height="11.6" fill="#008000" stroke="#1B4D1B" stroke-width="0.6"/>
<rect x="571.9" y="543.1" width="38.6" height="11.6" fill="#008000" stroke="#1B4D1B" stroke-width="0.6"/>
<rect x="571.9" y="333.7" width="158.2" height="221.7" fill="none" stroke="#000" stroke-width="1.8"/>
<line x1="571.9" y1="555.4" x2="571.9" y2="560.0" stroke="#000" stroke-width="1.4"/>
<text x="571.9" y="576.6" font-size="14" fill="#000" font-weight="bold" text-anchor="middle">0</text>
<line x1="601.3" y1="555.4" x2="601.3" y2="560.0" stroke="#000" stroke-width="1.4"/>
<text x="601.3" y="576.6" font-size="14" fill="#000" font-weight="bold" text-anchor="middle">2</text>
<line x1="630.7" y1="555.4" x2="630.7" y2="560.0" stroke="#000" stroke-width="1.4"/>
<text x="630.7" y="576.6" font-size="14" fill="#000" font-weight="bold" text-anchor="middle">4</text>
<line x1="660.1" y1="555.4" x2="660.1" y2="560.0" stroke="#000" stroke-width="1.4"/>
<text x="660.1" y="576.6" font-size="14" fill="#000" font-weight="bold" text-anchor="middle">6</text>
<line x1="689.5" y1="555.4" x2="689.5" y2="560.0" stroke="#000" stroke-width="1.4"/>
<text x="689.5" y="576.6" font-size="14" fill="#000" font-weight="bold" text-anchor="middle">8</text>
<line x1="718.9" y1="555.4" x2="718.9" y2="560.0" stroke="#000" stroke-width="1.4"/>
<text x="718.9" y="576.6" font-size="14" fill="#000" font-weight="bold" text-anchor="middle">10</text>
<text x="612.4" y="599.3" font-size="17.5" fill="#000" font-weight="bold" textLength="73.7" lengthAdjust="spacingAndGlyphs">%IncMSE</text>
<text x="566.6" y="348.0" font-size="10" fill="#000" font-weight="bold" text-anchor="end" letter-spacing="0.25">Surface area >10μm</text>
<text x="566.6" y="363.7" font-size="10" fill="#000" font-weight="bold" text-anchor="end" letter-spacing="0.25">Surface area &lt;10 μm</text>
<text x="566.6" y="379.4" font-size="10" fill="#000" font-weight="bold" text-anchor="end" letter-spacing="0.25">B3 chains</text>
<text x="566.6" y="395.2" font-size="10" fill="#000" font-weight="bold" text-anchor="end" letter-spacing="0.25">Final viscosity</text>
<text x="566.6" y="410.9" font-size="10" fill="#000" font-weight="bold" text-anchor="end" letter-spacing="0.25">Number &lt;10 μm</text>
<text x="566.6" y="426.6" font-size="10" fill="#000" font-weight="bold" text-anchor="end" letter-spacing="0.25">Number >10μm</text>
<text x="566.6" y="442.3" font-size="10" fill="#000" font-weight="bold" text-anchor="end" letter-spacing="0.25">Amylose</text>
<text x="566.6" y="458.0" font-size="10" fill="#000" font-weight="bold" text-anchor="end" letter-spacing="0.25">Number >10μm</text>
<text x="566.6" y="473.8" font-size="10" fill="#000" font-weight="bold" text-anchor="end" letter-spacing="0.25">Setback viscosity</text>
<text x="566.6" y="489.5" font-size="10" fill="#000" font-weight="bold" text-anchor="end" letter-spacing="0.25">B2 chains</text>
<text x="566.6" y="505.2" font-size="10" fill="#000" font-weight="bold" text-anchor="end" letter-spacing="0.25">Breakdown value</text>
<text x="566.6" y="520.9" font-size="10" fill="#000" font-weight="bold" text-anchor="end" letter-spacing="0.25">1045/1022cm<tspan font-size="6.5" dy="-3.5">-1</tspan></text>
<text x="566.6" y="536.6" font-size="10" fill="#000" font-weight="bold" text-anchor="end" letter-spacing="0.25">Starch</text>
<text x="566.6" y="552.4" font-size="10" fill="#000" font-weight="bold" text-anchor="end" letter-spacing="0.25">Amylose/Aylopectin</text>
<rect x="626.0" y="508.3" width="95.6" height="24.7" fill="#CFE8D0"/>
<text x="633.1" y="526.5" font-size="15.5" fill="#000" font-weight="bold" textLength="82.8" lengthAdjust="spacingAndGlyphs">Spread ratio</text>
<g stroke="#E6E6E6" stroke-width="0.8">
<line x1="838.1" y1="338.0" x2="996.8" y2="338.0"/>
<line x1="838.1" y1="352.3" x2="996.8" y2="352.3"/>
<line x1="838.1" y1="366.6" x2="996.8" y2="366.6"/>
<line x1="838.1" y1="380.8" x2="996.8" y2="380.8"/>
<line x1="838.1" y1="395.1" x2="996.8" y2="395.1"/>
<line x1="838.1" y1="409.4" x2="996.8" y2="409.4"/>
<line x1="838.1" y1="423.7" x2="996.8" y2="423.7"/>
<line x1="838.1" y1="438.0" x2="996.8" y2="438.0"/>
<line x1="838.1" y1="452.2" x2="996.8" y2="452.2"/>
<line x1="838.1" y1="466.5" x2="996.8" y2="466.5"/>
<line x1="838.1" y1="480.8" x2="996.8" y2="480.8"/>
<line x1="838.1" y1="495.1" x2="996.8" y2="495.1"/>
<line x1="838.1" y1="509.4" x2="996.8" y2="509.4"/>
<line x1="838.1" y1="523.6" x2="996.8" y2="523.6"/>
<line x1="838.1" y1="537.9" x2="996.8" y2="537.9"/>
</g>
<rect x="838.1" y="339.5" width="106.6" height="11.6" fill="#008000" stroke="#1B4D1B" stroke-width="0.6"/>
<rect x="838.1" y="353.8" width="79.7" height="11.6" fill="#008000" stroke="#1B4D1B" stroke-width="0.6"/>
<rect x="838.1" y="368.1" width="94.6" height="11.6" fill="#008000" stroke="#1B4D1B" stroke-width="0.6"/>
<rect x="838.1" y="382.3" width="70.6" height="11.6" fill="#008000" stroke="#1B4D1B" stroke-width="0.6"/>
<rect x="838.1" y="396.6" width="54.3" height="11.6" fill="#008000" stroke="#1B4D1B" stroke-width="0.6"/>
<rect x="838.1" y="410.9" width="49.1" height="11.6" fill="#008000" stroke="#1B4D1B" stroke-width="0.6"/>
<rect x="838.1" y="425.2" width="33.1" height="11.6" fill="#008000" stroke="#1B4D1B" stroke-width="0.6"/>
<rect x="838.1" y="439.5" width="30.2" height="11.6" fill="#008000" stroke="#1B4D1B" stroke-width="0.6"/>
<rect x="838.1" y="453.7" width="24.9" height="11.6" fill="#008000" stroke="#1B4D1B" stroke-width="0.6"/>
<rect x="838.1" y="468.0" width="21.3" height="11.6" fill="#008000" stroke="#1B4D1B" stroke-width="0.6"/>
<rect x="838.1" y="482.3" width="17.4" height="11.6" fill="#008000" stroke="#1B4D1B" stroke-width="0.6"/>
<rect x="838.1" y="496.6" width="17.1" height="11.6" fill="#008000" stroke="#1B4D1B" stroke-width="0.6"/>
<rect x="838.1" y="510.9" width="16.8" height="11.6" fill="#008000" stroke="#1B4D1B" stroke-width="0.6"/>
<rect x="838.1" y="525.1" width="12.0" height="11.6" fill="#008000" stroke="#1B4D1B" stroke-width="0.6"/>
<rect x="838.1" y="539.4" width="6.0" height="11.6" fill="#008000" stroke="#1B4D1B" stroke-width="0.6"/>
<rect x="838.1" y="331.0" width="158.7" height="221.3" fill="none" stroke="#000" stroke-width="1.8"/>
<line x1="838.1" y1="552.3" x2="838.1" y2="556.9" stroke="#000" stroke-width="1.4"/>
<text x="838.1" y="573.3" font-size="14" fill="#000" font-weight="bold" text-anchor="middle">0</text>
<line x1="867.5" y1="552.3" x2="867.5" y2="556.9" stroke="#000" stroke-width="1.4"/>
<text x="867.5" y="573.3" font-size="14" fill="#000" font-weight="bold" text-anchor="middle">2</text>
<line x1="896.9" y1="552.3" x2="896.9" y2="556.9" stroke="#000" stroke-width="1.4"/>
<text x="896.9" y="573.3" font-size="14" fill="#000" font-weight="bold" text-anchor="middle">4</text>
<line x1="926.3" y1="552.3" x2="926.3" y2="556.9" stroke="#000" stroke-width="1.4"/>
<text x="926.3" y="573.3" font-size="14" fill="#000" font-weight="bold" text-anchor="middle">6</text>
<line x1="955.7" y1="552.3" x2="955.7" y2="556.9" stroke="#000" stroke-width="1.4"/>
<text x="955.7" y="573.3" font-size="14" fill="#000" font-weight="bold" text-anchor="middle">8</text>
<line x1="985.1" y1="552.3" x2="985.1" y2="556.9" stroke="#000" stroke-width="1.4"/>
<text x="985.1" y="573.3" font-size="14" fill="#000" font-weight="bold" text-anchor="middle">10</text>
<text x="896.0" y="596.4" font-size="17.5" fill="#000" font-weight="bold" textLength="72.5" lengthAdjust="spacingAndGlyphs">%IncMSE</text>
<text x="833.0" y="347.0" font-size="10" fill="#000" font-weight="bold" text-anchor="end" letter-spacing="0.25">Amylose</text>
<text x="833.0" y="362.7" font-size="10" fill="#000" font-weight="bold" text-anchor="end" letter-spacing="0.25">Pasting Temp</text>
<text x="833.0" y="378.4" font-size="10" fill="#000" font-weight="bold" text-anchor="end" letter-spacing="0.25">Starch</text>
<text x="833.0" y="394.2" font-size="10" fill="#000" font-weight="bold" text-anchor="end" letter-spacing="0.25">Surface area >10μm</text>
<text x="833.0" y="409.9" font-size="10" fill="#000" font-weight="bold" text-anchor="end" letter-spacing="0.25">Surface area &lt;10 μm</text>
<text x="833.0" y="425.6" font-size="10" fill="#000" font-weight="bold" text-anchor="end" letter-spacing="0.25">Trough viscosity</text>
<text x="833.0" y="441.3" font-size="10" fill="#000" font-weight="bold" text-anchor="end" letter-spacing="0.25">Breakdown value</text>
<text x="833.0" y="457.0" font-size="10" fill="#000" font-weight="bold" text-anchor="end" letter-spacing="0.25">Number &lt;10 μm</text>
<text x="833.0" y="472.8" font-size="10" fill="#000" font-weight="bold" text-anchor="end" letter-spacing="0.25">Number >10μm</text>
<text x="833.0" y="488.5" font-size="10" fill="#000" font-weight="bold" text-anchor="end" letter-spacing="0.25">B3 chains</text>
<text x="833.0" y="504.2" font-size="10" fill="#000" font-weight="bold" text-anchor="end" letter-spacing="0.25">Final viscosity</text>
<text x="833.0" y="519.9" font-size="10" fill="#000" font-weight="bold" text-anchor="end" letter-spacing="0.25">10422/995 cm<tspan font-size="6.5" dy="-3.5">-1</tspan></text>
<text x="833.0" y="535.6" font-size="10" fill="#000" font-weight="bold" text-anchor="end" letter-spacing="0.25">Volume >10 μm</text>
<text x="833.0" y="551.4" font-size="10" fill="#000" font-weight="bold" text-anchor="end" letter-spacing="0.25">Amylose/Aylopectin</text>
<rect x="903.5" y="505.0" width="83.9" height="24.6" fill="#CFE8D0"/>
<text x="910.4" y="523.6" font-size="15.5" fill="#000" font-weight="bold" textLength="65.9" lengthAdjust="spacingAndGlyphs">Resilience</text>
<g stroke="#E6E6E6" stroke-width="0.8">
<line x1="1107.5" y1="335.0" x2="1265.8" y2="335.0"/>
<line x1="1107.5" y1="349.8" x2="1265.8" y2="349.8"/>
<line x1="1107.5" y1="364.7" x2="1265.8" y2="364.7"/>
<line x1="1107.5" y1="379.5" x2="1265.8" y2="379.5"/>
<line x1="1107.5" y1="394.3" x2="1265.8" y2="394.3"/>
<line x1="1107.5" y1="409.1" x2="1265.8" y2="409.1"/>
<line x1="1107.5" y1="424.0" x2="1265.8" y2="424.0"/>
<line x1="1107.5" y1="438.8" x2="1265.8" y2="438.8"/>
<line x1="1107.5" y1="453.6" x2="1265.8" y2="453.6"/>
<line x1="1107.5" y1="468.5" x2="1265.8" y2="468.5"/>
<line x1="1107.5" y1="483.3" x2="1265.8" y2="483.3"/>
<line x1="1107.5" y1="498.1" x2="1265.8" y2="498.1"/>
<line x1="1107.5" y1="513.0" x2="1265.8" y2="513.0"/>
<line x1="1107.5" y1="527.8" x2="1265.8" y2="527.8"/>
</g>
<rect x="1107.5" y="336.5" width="111.1" height="11.7" fill="#008000" stroke="#1B4D1B" stroke-width="0.6"/>
<rect x="1107.5" y="351.3" width="86.4" height="11.7" fill="#008000" stroke="#1B4D1B" stroke-width="0.6"/>
<rect x="1107.5" y="366.2" width="64.5" height="11.7" fill="#008000" stroke="#1B4D1B" stroke-width="0.6"/>
<rect x="1107.5" y="381.0" width="58.2" height="11.7" fill="#008000" stroke="#1B4D1B" stroke-width="0.6"/>
<rect x="1107.5" y="395.8" width="50.8" height="11.7" fill="#008000" stroke="#1B4D1B" stroke-width="0.6"/>
<rect x="1107.5" y="410.6" width="40.8" height="11.7" fill="#008000" stroke="#1B4D1B" stroke-width="0.6"/>
<rect x="1107.5" y="425.5" width="4.4" height="11.7" fill="#008000" stroke="#1B4D1B" stroke-width="0.6"/>
<rect x="1107.5" y="440.3" width="2.5" height="11.7" fill="#008000" stroke="#1B4D1B" stroke-width="0.6"/>
<rect x="1107.5" y="455.1" width="2.1" height="11.7" fill="#008000" stroke="#1B4D1B" stroke-width="0.6"/>
<rect x="1107.5" y="470.0" width="1.2" height="11.7" fill="#008000" stroke="#1B4D1B" stroke-width="0.6"/>
<rect x="1107.5" y="328.0" width="158.3" height="221.0" fill="none" stroke="#000" stroke-width="1.8"/>
<line x1="1107.5" y1="549.0" x2="1107.5" y2="553.6" stroke="#000" stroke-width="1.4"/>
<text x="1107.5" y="570.2" font-size="14" fill="#000" font-weight="bold" text-anchor="middle">0</text>
<line x1="1136.9" y1="549.0" x2="1136.9" y2="553.6" stroke="#000" stroke-width="1.4"/>
<text x="1136.9" y="570.2" font-size="14" fill="#000" font-weight="bold" text-anchor="middle">2</text>
<line x1="1166.3" y1="549.0" x2="1166.3" y2="553.6" stroke="#000" stroke-width="1.4"/>
<text x="1166.3" y="570.2" font-size="14" fill="#000" font-weight="bold" text-anchor="middle">4</text>
<line x1="1195.7" y1="549.0" x2="1195.7" y2="553.6" stroke="#000" stroke-width="1.4"/>
<text x="1195.7" y="570.2" font-size="14" fill="#000" font-weight="bold" text-anchor="middle">6</text>
<line x1="1225.1" y1="549.0" x2="1225.1" y2="553.6" stroke="#000" stroke-width="1.4"/>
<text x="1225.1" y="570.2" font-size="14" fill="#000" font-weight="bold" text-anchor="middle">8</text>
<line x1="1254.5" y1="549.0" x2="1254.5" y2="553.6" stroke="#000" stroke-width="1.4"/>
<text x="1254.5" y="570.2" font-size="14" fill="#000" font-weight="bold" text-anchor="middle">10</text>
<text x="1147.3" y="593.2" font-size="17.5" fill="#000" font-weight="bold" textLength="72.5" lengthAdjust="spacingAndGlyphs">%IncMSE</text>
<text x="1102.0" y="347.0" font-size="10" fill="#000" font-weight="bold" text-anchor="end" letter-spacing="0.25">Starch</text>
<text x="1102.0" y="362.7" font-size="10" fill="#000" font-weight="bold" text-anchor="end" letter-spacing="0.25">Amylopectin</text>
<text x="1102.0" y="378.4" font-size="10" fill="#000" font-weight="bold" text-anchor="end" letter-spacing="0.25">Trough viscosity</text>
<text x="1102.0" y="394.2" font-size="10" fill="#000" font-weight="bold" text-anchor="end" letter-spacing="0.25">Peak viscosity</text>
<text x="1102.0" y="409.9" font-size="10" fill="#000" font-weight="bold" text-anchor="end" letter-spacing="0.25">Breakdown value</text>
<text x="1102.0" y="425.6" font-size="10" fill="#000" font-weight="bold" text-anchor="end" letter-spacing="0.25">Final viscosity</text>
<text x="1102.0" y="441.3" font-size="10" fill="#000" font-weight="bold" text-anchor="end" letter-spacing="0.25">Amylose/Aylopectin</text>
<text x="1102.0" y="457.0" font-size="10" fill="#000" font-weight="bold" text-anchor="end" letter-spacing="0.25">B1 chains</text>
<text x="1102.0" y="472.8" font-size="10" fill="#000" font-weight="bold" text-anchor="end" letter-spacing="0.25">Rz</text>
<text x="1102.0" y="488.5" font-size="10" fill="#000" font-weight="bold" text-anchor="end" letter-spacing="0.25">A chains</text>
<text x="1102.0" y="504.2" font-size="10" fill="#000" font-weight="bold" text-anchor="end" letter-spacing="0.25">Surface area &lt;10 μm</text>
<text x="1102.0" y="519.9" font-size="10" fill="#000" font-weight="bold" text-anchor="end" letter-spacing="0.25">1022/995 cm<tspan font-size="6.5" dy="-3.5">-1</tspan></text>
<text x="1102.0" y="535.6" font-size="10" fill="#000" font-weight="bold" text-anchor="end" letter-spacing="0.25">Setback viscosity</text>
<text x="1102.0" y="551.4" font-size="10" fill="#000" font-weight="bold" text-anchor="end" letter-spacing="0.25">Volume >10 μm</text>
<rect x="1182.4" y="501.9" width="77.8" height="25.4" fill="#CFE8D0"/>
<text x="1189.8" y="520.4" font-size="15.5" fill="#000" font-weight="bold" textLength="62.3" lengthAdjust="spacingAndGlyphs">Hardness</text>
<circle cx="887.5" cy="324.6" r="0.9" fill="#333"/>
</svg></body></html>
